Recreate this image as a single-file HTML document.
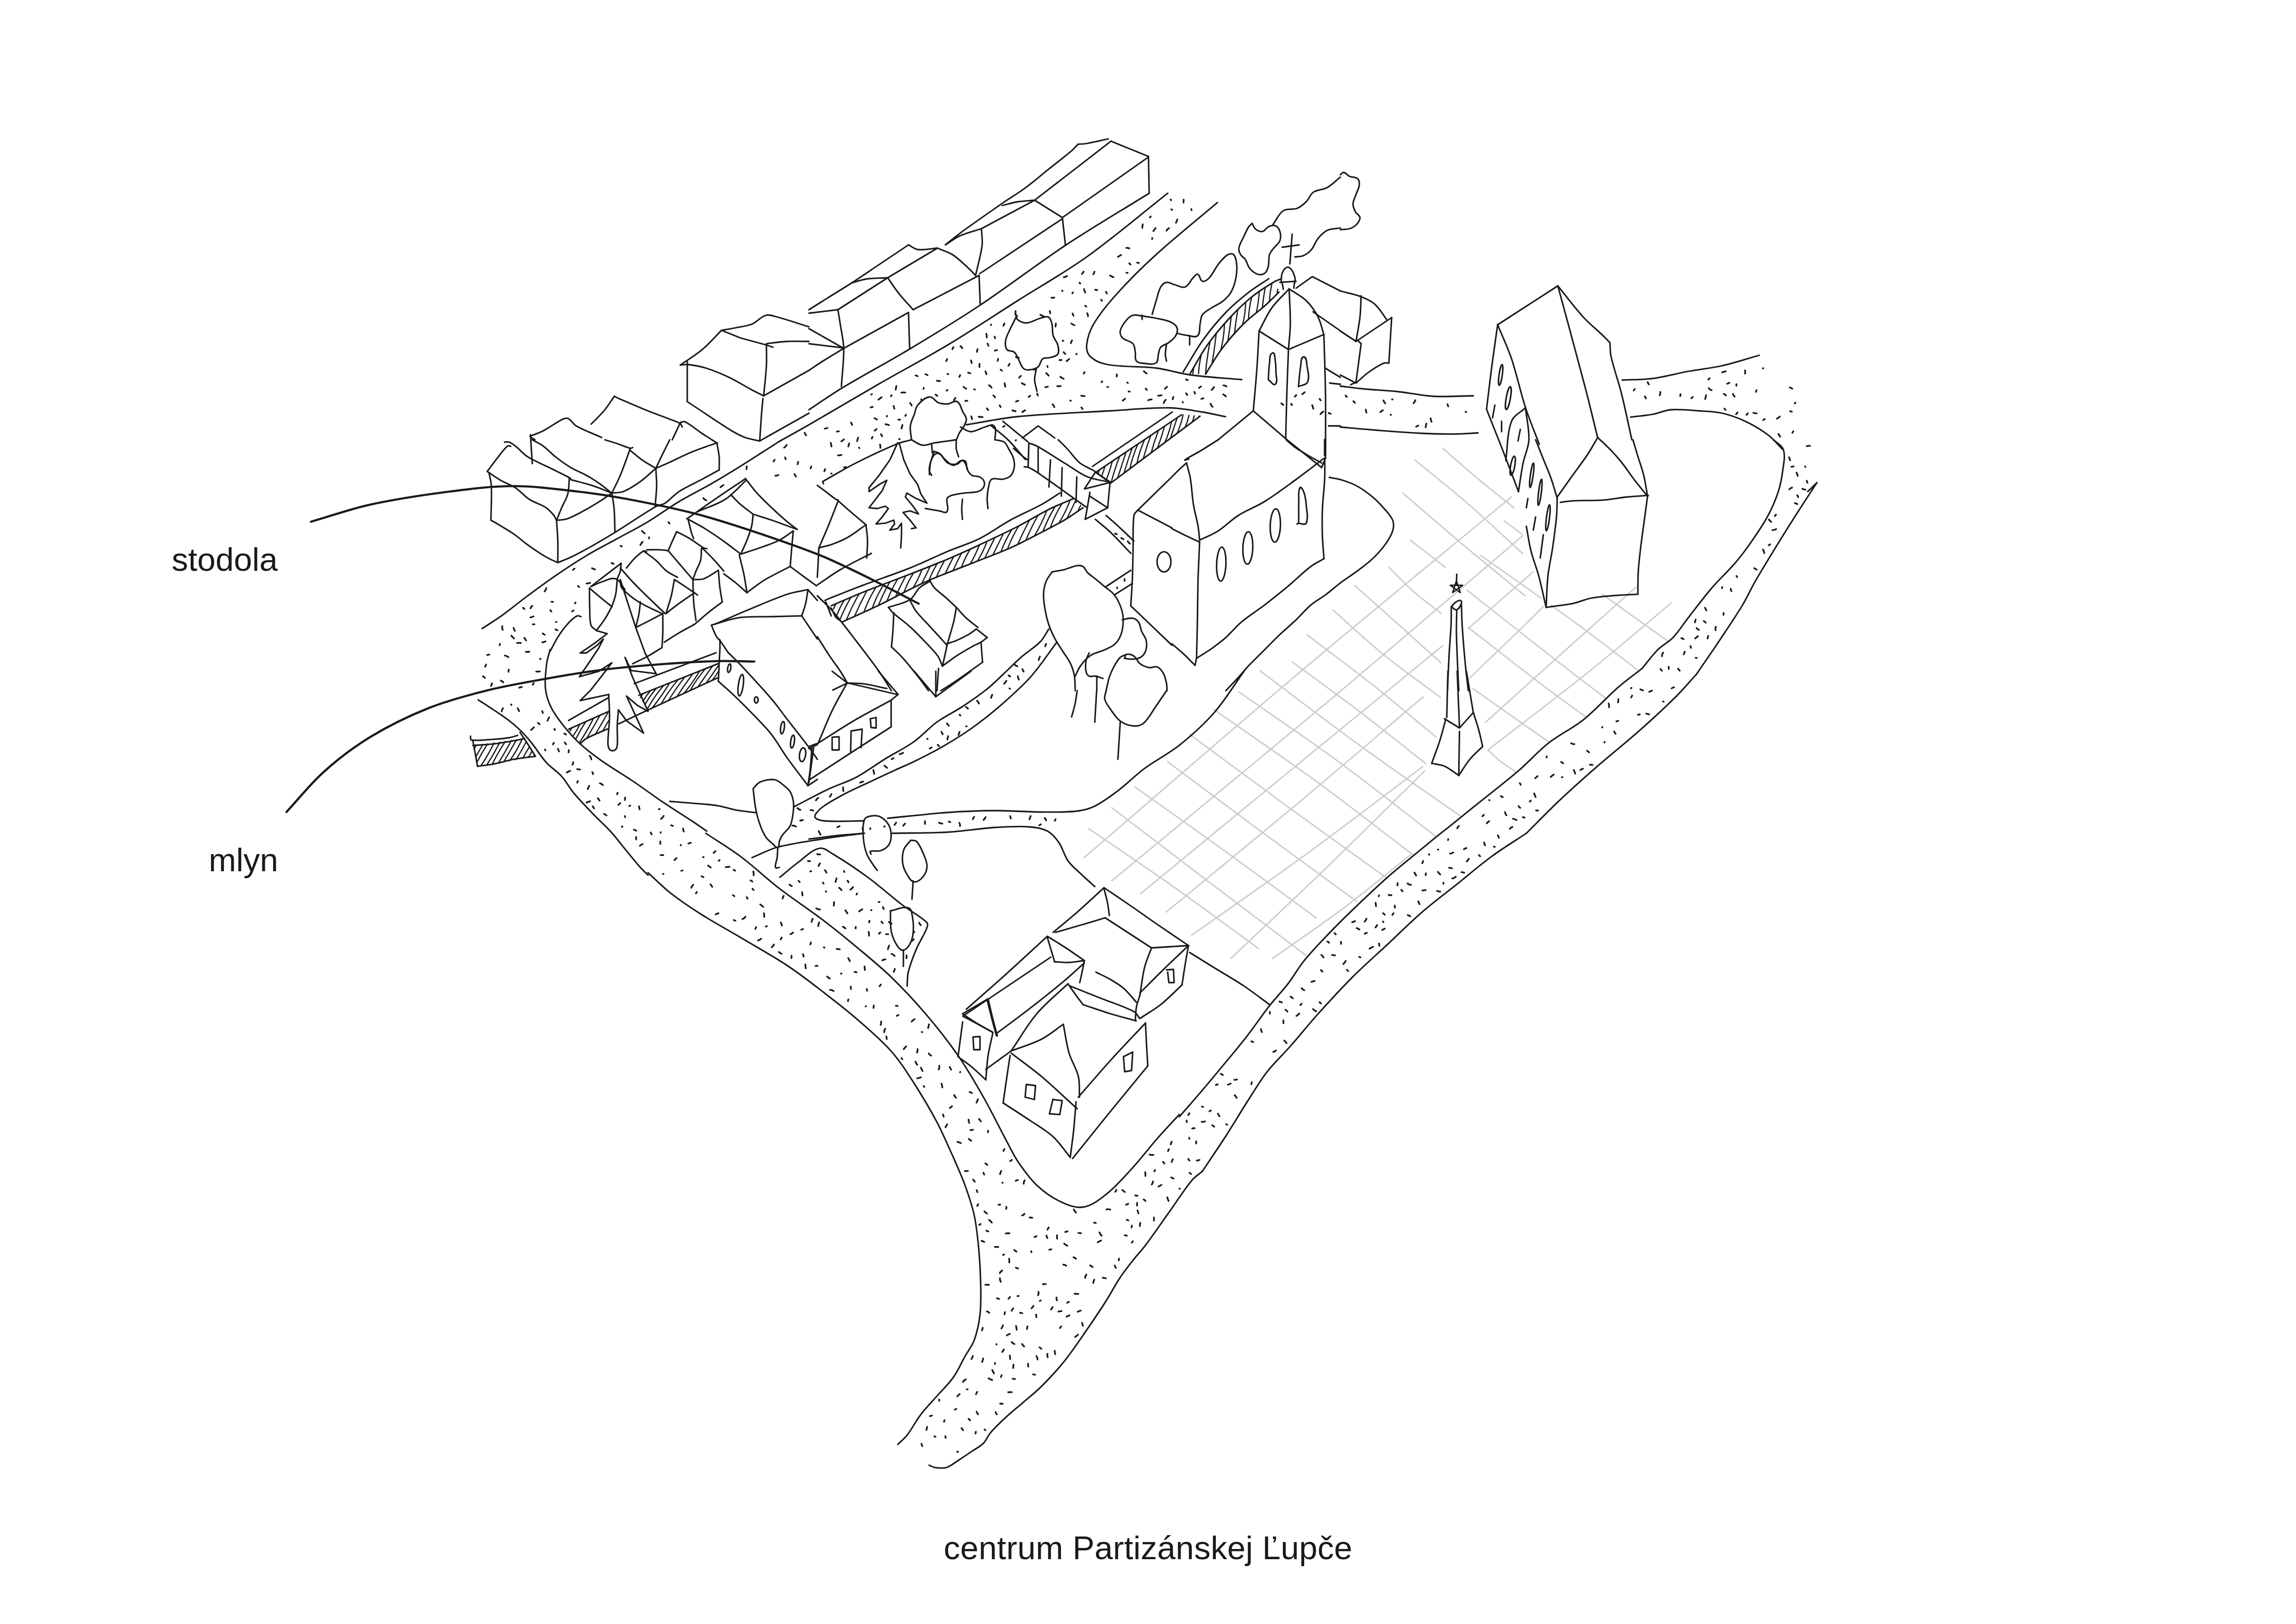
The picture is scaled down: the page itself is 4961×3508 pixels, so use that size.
<!DOCTYPE html>
<html><head><meta charset="utf-8"><title>centrum Partizánskej Ľupče</title>
<style>
html,body{margin:0;padding:0;background:#fff}
body{width:4961px;height:3508px;position:relative;overflow:hidden;font-family:"Liberation Sans",sans-serif;color:#1a1a1a}
.t{position:absolute;white-space:nowrap;line-height:1}
</style></head><body>
<svg width="4961" height="3508" viewBox="0 0 4961 3508" style="position:absolute;left:0;top:0">
<defs><clipPath id="pz"><path d="M3077.0 940.0 L3030.0 1063.0 L3047.0 1163.0 L3000.0 1223.0 L2927.0 1263.0 L2880.0 1317.0 L2823.0 1370.0 L2790.0 1430.0 L2720.0 1447.0 L2673.0 1493.0 L2620.0 1530.0 L2567.0 1587.0 L2520.0 1643.0 L2450.0 1700.0 L2400.0 1740.0 L2350.0 1790.0 L2335.0 1853.0 L2403.0 1912.0 L2467.0 1935.0 L2520.0 1975.0 L2577.0 2025.0 L2660.0 2085.0 L2743.0 2165.0 L2783.0 2125.0 L2818.0 2075.0 L2868.0 2020.0 L2923.0 1965.0 L2998.0 1895.0 L3058.0 1845.0 L3113.0 1800.0 L3191.0 1737.0 L3281.0 1665.0 L3346.0 1605.0 L3421.0 1555.0 L3496.0 1485.0 L3541.0 1450.0 L3582.0 1404.0 L3615.0 1377.0 L3650.0 1330.0 L3560.0 1262.0 L3336.0 1310.0 L3283.0 1130.0 L3243.0 990.0 L3208.0 930.0Z"/></clipPath></defs>
<g clip-path="url(#pz)" fill="none" stroke="#cdcdcd" stroke-width="3.1" stroke-linecap="round">
<path d="M2352.5 1790.0 C2414.2 1832.3 2476.6 1873.7 2537.7 1916.9 C2598.9 1960.1 2658.8 2004.9 2719.3 2049.0"/>
<path d="M2402.5 1745.0 C2472.3 1798.3 2542.0 1851.7 2611.9 1904.9 C2681.8 1958.0 2751.9 2010.9 2822.0 2063.9"/>
<path d="M2452.5 1700.0 C2518.0 1746.7 2583.7 1792.9 2648.9 1840.0 C2714.0 1887.1 2778.6 1935.0 2843.4 1982.5"/>
<path d="M2522.5 1645.0 C2590.4 1695.7 2658.0 1746.7 2726.2 1797.0 C2794.3 1847.4 2863.0 1897.0 2931.3 1947.0"/>
<path d="M2570.0 1586.0 C2641.4 1638.6 2712.4 1691.6 2784.1 1743.8 C2855.8 1796.1 2928.0 1847.5 3000.0 1899.3"/>
<path d="M2622.5 1532.5 C2696.3 1584.2 2771.0 1634.4 2843.8 1687.5 C2916.5 1740.6 2987.2 1796.5 3058.9 1851.0"/>
<path d="M2677.5 1495.0 C2749.9 1545.7 2823.5 1594.9 2894.8 1647.2 C2966.1 1699.5 3035.0 1755.0 3105.1 1808.9"/>
<path d="M2722.5 1449.0 C2795.3 1503.4 2867.3 1558.9 2940.9 1612.2 C3014.4 1665.5 3089.6 1716.6 3164.0 1768.8"/>
<path d="M2792.5 1430.0 C2841.1 1465.8 2890.2 1500.8 2938.2 1537.4 C2986.2 1574.0 3033.0 1612.1 3080.5 1649.4"/>
<path d="M2822.5 1370.0 C2869.9 1406.1 2917.9 1441.4 2964.6 1478.3 C3011.3 1515.3 3056.6 1553.9 3102.7 1591.7"/>
<path d="M2880.0 1317.5 C2917.4 1350.5 2953.6 1385.0 2992.3 1416.4 C3031.0 1447.9 3072.2 1476.2 3112.1 1506.1"/>
<path d="M2927.5 1265.0 C2958.6 1292.7 2989.7 1320.3 3020.7 1348.1 C3051.7 1375.9 3082.6 1403.9 3113.5 1431.7"/>
<path d="M3001.0 1225.5 C3018.9 1243.1 3036.0 1261.7 3054.8 1278.3 C3073.7 1294.9 3094.3 1309.4 3114.0 1325.0"/>
<path d="M3047.5 1167.0 C3060.1 1176.7 3072.7 1186.3 3085.2 1196.0 C3097.7 1205.8 3110.1 1215.7 3122.5 1225.5"/>
<path d="M3031.0 1065.0 C3074.7 1102.4 3118.0 1140.3 3162.0 1177.3 C3206.0 1214.3 3250.8 1250.4 3295.1 1287.0"/>
<path d="M3044.0 983.0 C3085.9 1017.4 3128.8 1050.8 3169.8 1086.3 C3210.8 1121.8 3250.0 1159.4 3290.1 1195.9"/>
<path d="M3117.5 968.5 C3142.7 990.3 3167.6 1012.6 3193.2 1034.0 C3218.8 1055.4 3245.1 1076.0 3271.0 1097.0"/>
<path d="M3175.0 1357.5 C3236.2 1404.7 3296.5 1453.1 3358.5 1499.1 C3420.6 1545.2 3484.4 1588.8 3547.3 1633.7"/>
<path d="M3182.5 1487.5 C3221.7 1515.1 3260.8 1542.8 3300.1 1570.4 C3339.4 1598.0 3378.7 1625.4 3418.0 1652.9"/>
<path d="M3215.0 1620.0 C3225.2 1629.1 3234.9 1638.9 3245.7 1647.3 C3256.6 1655.6 3268.6 1662.4 3280.0 1670.0"/>
<path d="M3170.0 1275.0 C3237.0 1327.6 3303.5 1380.8 3370.9 1432.9 C3438.2 1485.0 3506.4 1536.1 3574.2 1587.6"/>
<path d="M3200.0 1200.0 C3275.7 1254.1 3352.4 1306.7 3427.1 1362.2 C3501.8 1417.7 3574.3 1475.9 3648.0 1532.8"/>
<path d="M3250.0 1125.0 C3324.2 1180.3 3397.7 1236.5 3472.5 1290.9 C3547.3 1345.4 3623.3 1398.2 3698.6 1451.9"/>
<path d="M3425.0 1160.0 C3478.4 1197.0 3531.5 1234.4 3585.1 1271.1 C3638.6 1307.8 3692.6 1343.9 3746.4 1380.4"/>
<path d="M3550.0 1185.0 C3587.6 1208.1 3625.7 1230.6 3662.9 1254.4 C3700.1 1278.2 3736.4 1303.4 3773.2 1327.8"/>
<path d="M2342.5 1852.5 C2499.3 1717.8 2655.0 1581.6 2813.0 1448.3 C2971.1 1314.9 3131.5 1184.5 3290.8 1052.6"/>
<path d="M2402.5 1902.5 C2563.1 1769.4 2724.6 1637.4 2884.3 1503.2 C3043.9 1369.0 3201.7 1232.5 3360.4 1097.2"/>
<path d="M2465.0 1930.0 C2573.6 1840.7 2682.2 1751.3 2790.9 1662.1 C2899.7 1572.9 3008.5 1483.9 3117.3 1394.8"/>
<path d="M2520.0 1970.0 C2613.1 1893.2 2706.7 1817.1 2799.3 1739.6 C2891.8 1662.2 2983.2 1583.4 3075.2 1505.2"/>
<path d="M2575.0 2020.0 C2659.1 1960.6 2744.0 1902.4 2827.2 1841.7 C2910.3 1781.0 2991.7 1717.9 3074.0 1656.1"/>
<path d="M2660.0 2070.0 C2730.3 2003.2 2801.2 1937.0 2870.9 1869.6 C2940.6 1802.1 3009.2 1733.5 3078.3 1665.4"/>
<path d="M2750.0 2070.0 C2800.6 2034.1 2852.2 1999.7 2901.8 1962.4 C2951.5 1925.2 2999.0 1885.3 3047.6 1846.8"/>
<path d="M3172.5 1357.5 C3216.5 1319.1 3260.2 1280.5 3304.5 1242.4 C3348.8 1204.4 3393.6 1166.9 3438.2 1129.2"/>
<path d="M3175.0 1465.0 C3226.3 1415.4 3278.4 1366.7 3328.8 1316.3 C3379.2 1265.9 3427.9 1213.8 3477.5 1162.5"/>
<path d="M3210.0 1560.0 C3271.8 1504.3 3333.4 1448.5 3395.3 1393.0 C3457.2 1337.5 3519.4 1282.3 3581.4 1227.0"/>
<path d="M3215.0 1620.0 C3289.4 1562.3 3364.8 1506.0 3438.1 1446.9 C3511.4 1387.8 3582.5 1326.1 3654.6 1265.7"/>
<path d="M3280.0 1670.0 C3347.8 1619.2 3416.5 1569.6 3483.4 1517.5 C3550.3 1465.5 3615.3 1411.1 3681.3 1357.9"/>
</g>
<g fill="none" stroke="#1a1a1a" stroke-linecap="round" stroke-linejoin="round">
<g stroke-width="3.30">
<path d="M1470.0 788.5 C1485.8 777.3 1502.7 767.5 1517.5 755.0 C1532.5 742.4 1545.2 727.3 1559.0 713.5"/>
<path d="M1559.0 713.5 C1570.2 711.5 1581.4 709.8 1592.5 707.5 C1603.4 705.3 1614.8 704.3 1625.0 700.0 C1635.9 695.4 1643.6 684.1 1655.0 681.0 C1663.1 678.8 1671.9 682.8 1680.0 685.0 C1702.9 691.2 1725.3 699.0 1748.0 706.0"/>
<path d="M1559.0 713.5 L1600.0 730.0 L1655.0 745.0 L1670.0 750.0"/>
<path d="M1656.0 742.5 C1670.7 740.8 1685.3 738.3 1700.0 737.5 C1716.0 736.6 1732.0 737.5 1748.0 737.5"/>
<path d="M1470.0 788.5 C1475.8 788.2 1481.7 786.8 1487.5 787.5 C1500.2 789.0 1512.8 791.2 1525.0 795.0 C1542.1 800.4 1558.8 807.3 1575.0 815.0 C1592.2 823.2 1608.2 833.5 1625.0 842.5 C1633.2 846.9 1641.7 850.8 1650.0 855.0"/>
<path d="M1656.0 745.0 C1656.0 760.0 1656.8 775.0 1656.0 790.0 C1654.8 811.7 1652.0 833.3 1650.0 855.0"/>
<path d="M1485.0 781.0 L1485.0 867.5"/>
<path d="M1485.0 867.5 C1495.0 874.2 1505.0 880.9 1515.0 887.5 C1536.6 901.7 1557.9 916.6 1580.0 930.0 C1589.6 935.8 1599.5 941.2 1610.0 945.0 C1620.1 948.7 1631.0 950.0 1641.5 952.5"/>
<path d="M1648.5 861.0 C1647.3 874.0 1646.0 887.0 1645.0 900.0 C1643.7 917.5 1642.7 935.0 1641.5 952.5"/>
<path d="M1277.5 916.0 C1286.7 906.5 1296.5 897.6 1305.0 887.5 C1313.3 877.6 1320.0 866.5 1327.5 856.0"/>
<path d="M1327.5 856.0 C1330.8 857.7 1334.1 859.5 1337.5 861.0 C1358.3 870.0 1379.0 879.0 1400.0 887.5 C1416.5 894.2 1433.4 900.0 1450.0 906.5 C1456.7 909.1 1464.0 911.0 1470.0 915.0 C1472.4 916.6 1472.7 920.0 1474.0 922.5"/>
<path d="M1470.0 912.5 C1473.3 912.0 1477.0 909.5 1480.0 911.0 C1492.7 917.3 1503.2 927.2 1515.0 935.0 C1526.6 942.7 1538.3 950.0 1550.0 957.5"/>
<path d="M1469.0 915.0 L1452.5 950.0"/>
<path d="M1145.0 942.5 C1155.0 938.3 1165.4 935.0 1175.0 930.0 C1188.8 922.8 1201.1 912.9 1215.0 906.0 C1218.8 904.1 1223.7 902.2 1227.5 904.0 C1234.7 907.3 1238.1 916.1 1245.0 920.0 C1262.5 929.9 1281.7 936.7 1300.0 945.0"/>
<path d="M1146.5 939.0 L1147.0 950.0"/>
<path d="M1147.5 945.0 L1156.0 950.0"/>
<path d="M1650.0 855.0 L1748.0 800.0"/>
<path d="M1641.5 952.5 L1748.0 892.5"/>
<path d="M1748.0 669.0 C1764.7 658.5 1781.3 648.0 1798.0 637.5 C1812.1 628.6 1826.5 620.1 1840.5 611.0 C1859.8 598.4 1878.8 585.3 1898.0 572.5 C1919.7 558.0 1941.3 543.5 1963.0 529.0"/>
<path d="M1963.0 529.0 C1969.7 532.3 1975.6 538.2 1983.0 539.0 C1997.1 540.6 2011.3 537.0 2025.5 536.0"/>
<path d="M1840.5 611.0 C1851.3 608.2 1861.9 604.1 1873.0 602.5 C1887.9 600.4 1903.0 600.8 1918.0 600.0"/>
<path d="M1918.0 600.0 L2025.5 536.0"/>
<path d="M1918.0 600.0 C1926.3 611.7 1934.1 623.8 1943.0 635.0 C1952.4 646.8 1963.0 657.7 1973.0 669.0"/>
<path d="M1748.0 676.5 L1810.5 669.0"/>
<path d="M1810.5 669.0 L1918.0 600.0"/>
<path d="M1810.5 669.0 C1812.2 679.3 1814.0 689.6 1815.5 700.0 C1818.1 717.5 1822.7 734.8 1823.0 752.5 C1823.5 780.0 1819.7 807.5 1818.0 835.0"/>
<path d="M1748.0 710.0 L1823.0 752.5"/>
<path d="M1748.0 742.5 L1823.0 751.5"/>
<path d="M1748.0 800.0 C1758.0 793.3 1767.8 786.4 1778.0 780.0 C1792.9 770.6 1808.0 761.7 1823.0 752.5"/>
<path d="M1823.0 752.5 L1963.0 675.0"/>
<path d="M1963.0 675.0 L1965.5 752.5"/>
<path d="M1973.0 669.0 L2115.5 595.0"/>
<path d="M2115.5 595.0 L2118.0 657.5"/>
<path d="M2025.5 536.0 C2036.3 540.7 2048.0 543.8 2058.0 550.0 C2069.0 556.9 2078.3 566.3 2088.0 575.0 C2095.0 581.3 2101.3 588.3 2108.0 595.0"/>
<path d="M2043.0 529.0 C2053.0 522.7 2062.2 514.9 2073.0 510.0 C2088.2 503.1 2104.7 499.3 2120.5 494.0"/>
<path d="M2043.0 528.5 C2055.8 518.5 2068.3 508.1 2081.5 498.5 C2108.9 478.6 2136.7 459.3 2164.5 440.0 C2181.0 428.6 2198.3 418.4 2214.5 406.5 C2231.7 393.9 2247.8 379.8 2264.5 366.5 C2281.2 353.2 2298.2 340.3 2314.5 326.5 C2319.9 321.9 2324.5 316.5 2329.5 311.5"/>
<path d="M2329.5 311.5 C2335.7 311.0 2341.9 311.1 2348.0 310.0 C2363.6 307.2 2379.0 303.3 2394.5 300.0"/>
<path d="M2120.5 494.0 L2235.5 432.5"/>
<path d="M2165.5 444.0 C2176.3 441.3 2187.0 437.8 2198.0 436.0 C2210.4 434.0 2223.0 433.7 2235.5 432.5"/>
<path d="M2235.5 432.5 L2400.5 305.0"/>
<path d="M2400.5 305.0 L2480.5 337.5"/>
<path d="M2235.5 432.5 L2295.5 470.0"/>
<path d="M2295.5 470.0 L2480.5 340.0"/>
<path d="M2295.5 470.0 L2302.0 529.0"/>
<path d="M2481.5 337.5 L2483.0 417.5"/>
<path d="M2120.5 494.0 C2121.0 506.0 2123.5 518.1 2122.0 530.0 C2119.3 552.0 2112.7 573.3 2108.0 595.0"/>
<path d="M2117.0 591.0 L2295.5 472.5"/>
<path d="M1748.0 885.0 C1771.3 869.7 1794.1 853.4 1818.0 839.0 C1866.6 809.7 1916.8 783.2 1965.5 754.0 C2016.9 723.2 2068.1 692.2 2118.0 659.0 C2180.4 617.5 2239.5 571.3 2302.0 530.0 C2361.2 490.8 2422.7 455.0 2483.0 417.5"/>
<path d="M1684.0 953.5 C1705.3 941.5 1726.8 929.7 1748.0 917.5 C1798.1 888.6 1847.8 858.9 1898.0 830.0 C1947.8 801.4 1998.7 774.6 2048.0 745.0 C2098.8 714.5 2148.0 681.7 2198.0 650.0 C2248.0 618.3 2299.9 589.4 2348.0 555.0 C2408.3 511.8 2464.7 463.3 2523.0 417.5"/>
<path d="M2630.5 437.5 C2586.3 475.0 2540.9 511.1 2498.0 550.0 C2468.3 576.9 2439.8 605.2 2413.0 635.0 C2394.7 655.3 2376.9 676.5 2363.0 700.0 C2355.0 713.6 2349.7 729.3 2348.0 745.0 C2347.1 753.7 2349.2 764.0 2355.5 770.0 C2365.5 779.5 2379.4 785.1 2393.0 787.5 C2427.6 793.6 2463.2 790.6 2498.0 795.0 C2523.3 798.2 2547.7 806.6 2573.0 810.0 C2609.5 814.9 2646.3 816.7 2683.0 820.0"/>
<path d="M2088.0 917.5 C2124.7 911.7 2161.0 903.6 2198.0 900.0 C2264.5 893.6 2331.3 891.3 2398.0 887.5 C2441.3 885.0 2484.6 880.5 2528.0 881.0 C2551.5 881.3 2574.8 886.3 2598.0 890.0 C2614.8 892.7 2631.3 896.7 2648.0 900.0"/>
<path d="M2197.0 681.0 C2197.3 684.0 2195.6 688.1 2198.0 690.0 C2203.6 694.4 2210.9 697.9 2218.0 697.5 C2228.5 697.0 2237.8 690.2 2248.0 687.5 C2253.7 686.0 2260.2 682.4 2265.5 685.0 C2270.5 687.5 2271.6 694.6 2273.0 700.0 C2275.0 708.1 2273.3 716.9 2275.5 725.0 C2277.5 732.2 2283.7 737.8 2285.5 745.0 C2287.1 751.5 2289.1 759.4 2285.5 765.0 C2282.1 770.4 2274.1 770.6 2268.0 772.5 C2263.2 774.0 2257.0 771.8 2253.0 775.0 C2247.8 779.2 2248.2 788.3 2243.0 792.5 C2237.5 796.9 2230.0 798.5 2223.0 799.0 C2218.6 799.3 2213.4 798.3 2210.5 795.0 C2204.4 787.9 2202.6 778.1 2198.0 770.0 C2195.9 766.4 2194.0 762.3 2190.5 760.0 C2186.1 757.1 2178.5 759.3 2175.5 755.0 C2171.6 749.5 2171.9 741.6 2173.0 735.0 C2174.5 726.1 2179.4 718.2 2183.0 710.0 C2186.0 703.2 2189.8 696.7 2193.0 690.0 C2194.4 687.0 2195.7 684.0 2197.0 681.0"/>
<path d="M2239.5 795.0 C2238.2 803.3 2235.3 811.6 2235.5 820.0 C2235.7 828.5 2238.8 836.7 2240.5 845.0"/>
<path d="M2468.0 682.5 C2461.3 682.0 2454.4 679.2 2448.0 681.0 C2441.9 682.7 2437.0 687.6 2433.0 692.5 C2427.6 699.2 2422.2 706.6 2420.5 715.0 C2419.5 720.2 2421.8 726.3 2425.5 730.0 C2431.6 736.1 2442.2 736.2 2448.0 742.5 C2452.1 747.0 2451.8 754.1 2453.0 760.0 C2454.3 766.6 2451.3 774.8 2455.5 780.0 C2459.3 784.7 2467.0 784.4 2473.0 785.0 C2481.3 785.8 2491.1 788.6 2498.0 784.0 C2503.4 780.4 2501.2 771.3 2503.0 765.0 C2504.5 759.9 2504.5 753.9 2508.0 750.0 C2512.5 745.0 2520.2 744.1 2525.5 740.0 C2531.1 735.7 2537.1 731.2 2540.5 725.0 C2543.3 719.8 2545.3 712.9 2543.0 707.5 C2540.5 701.5 2533.9 697.6 2528.0 695.0 C2518.6 690.8 2508.1 689.6 2498.0 687.5 C2488.1 685.4 2478.0 684.2 2468.0 682.5"/>
<path d="M2467.0 681.0 L2468.0 690.0"/>
<path d="M2520.5 742.5 C2519.7 750.0 2518.0 757.5 2518.0 765.0 C2518.0 770.1 2519.7 775.0 2520.5 780.0"/>
<path d="M2489.5 679.0 C2492.3 669.3 2495.0 659.6 2498.0 650.0 C2501.2 639.9 2502.8 629.2 2508.0 620.0 C2510.6 615.3 2515.2 610.9 2520.5 610.0 C2526.5 609.0 2532.1 613.5 2538.0 615.0 C2545.5 616.9 2553.3 622.7 2560.5 620.0 C2568.8 616.9 2571.7 606.3 2578.0 600.0 C2580.9 597.1 2584.1 591.0 2588.0 592.5 C2593.6 594.6 2592.2 605.8 2598.0 607.5 C2603.4 609.1 2609.2 604.1 2613.0 600.0 C2621.2 591.2 2625.5 579.4 2633.0 570.0 C2638.9 562.6 2645.0 554.9 2653.0 550.0 C2656.5 547.8 2662.6 547.0 2665.5 550.0 C2670.3 555.1 2671.3 563.0 2672.0 570.0 C2673.0 580.0 2672.4 590.2 2670.5 600.0 C2668.5 610.4 2665.6 620.8 2660.5 630.0 C2656.2 637.8 2649.8 644.4 2643.0 650.0 C2635.5 656.2 2626.1 659.6 2618.0 665.0 C2611.1 669.6 2602.8 673.2 2598.0 680.0 C2594.0 685.6 2594.5 693.3 2593.0 700.0 C2591.2 708.3 2594.0 719.0 2588.0 725.0 C2583.3 729.7 2574.6 725.7 2568.0 725.0 C2559.6 724.1 2551.3 721.7 2543.0 720.0"/>
<path d="M2570.5 727.5 L2570.5 745.0"/>
<path d="M2705.5 482.5 C2708.0 486.7 2709.2 492.0 2713.0 495.0 C2717.2 498.2 2722.8 500.9 2728.0 500.0 C2733.2 499.0 2735.6 492.2 2740.5 490.0 C2745.1 487.9 2750.8 485.6 2755.5 487.5 C2760.5 489.5 2763.9 494.9 2765.5 500.0 C2767.5 506.4 2767.7 513.7 2765.5 520.0 C2763.3 526.1 2756.9 529.8 2753.0 535.0 C2749.4 539.8 2744.8 544.3 2743.0 550.0 C2740.5 558.0 2742.5 566.9 2740.5 575.0 C2739.1 580.4 2737.4 586.6 2733.0 590.0 C2729.0 593.1 2722.8 594.0 2718.0 592.5 C2711.1 590.4 2705.1 585.5 2700.5 580.0 C2695.7 574.3 2694.6 566.2 2690.5 560.0 C2687.9 556.1 2682.7 554.1 2680.5 550.0 C2678.1 545.5 2676.1 540.0 2677.0 535.0 C2678.7 526.1 2684.1 518.3 2688.0 510.0 C2691.2 503.2 2694.0 496.3 2698.0 490.0 C2699.9 487.0 2703.0 485.0 2705.5 482.5"/>
<path d="M2750.5 485.0 C2758.0 475.0 2762.6 461.9 2773.0 455.0 C2781.4 449.4 2793.6 453.8 2803.0 450.0 C2810.7 446.9 2817.1 440.9 2823.0 435.0 C2828.9 429.1 2831.1 419.6 2838.0 415.0 C2846.8 409.2 2858.8 410.2 2868.0 405.0 C2878.4 399.1 2886.7 390.0 2896.0 382.5"/>
<path d="M2798.0 555.0 C2803.8 554.2 2810.1 554.8 2815.5 552.5 C2822.1 549.7 2828.3 545.4 2833.0 540.0 C2839.4 532.7 2841.8 522.5 2848.0 515.0 C2853.6 508.2 2860.0 501.3 2868.0 497.5 C2876.6 493.5 2886.7 494.2 2896.0 492.5"/>
<path d="M2792.0 506.0 L2787.0 570.0"/>
<path d="M2770.5 534.0 L2807.0 529.0"/>
<path d="M2768.0 610.0 C2768.8 603.3 2768.1 596.3 2770.5 590.0 C2772.4 585.0 2775.5 579.4 2780.5 577.5 C2784.0 576.2 2788.2 579.6 2790.5 582.5 C2794.4 587.5 2796.3 593.9 2798.0 600.0 C2798.9 603.2 2798.0 606.7 2798.0 610.0"/>
<path d="M2765.5 610.0 L2800.5 607.5"/>
<path d="M2770.5 612.5 L2773.0 625.0"/>
<path d="M2797.0 610.0 L2795.5 622.5"/>
<path d="M2785.5 624.0 C2773.0 637.7 2758.8 649.9 2748.0 665.0 C2736.9 680.5 2729.7 698.3 2720.5 715.0"/>
<path d="M2785.5 624.0 C2798.0 632.7 2812.1 639.4 2823.0 650.0 C2833.3 660.0 2841.4 672.3 2848.0 685.0 C2854.1 696.7 2856.3 710.0 2860.5 722.5"/>
<path d="M2785.5 624.0 C2786.3 649.3 2788.3 674.7 2788.0 700.0 C2787.8 718.4 2785.3 736.7 2784.0 755.0"/>
<path d="M2720.5 715.0 L2784.0 755.0 L2860.5 722.5"/>
<path d="M2720.5 715.0 C2718.8 743.3 2717.6 771.7 2715.5 800.0 C2713.4 829.2 2710.5 858.3 2708.0 887.5"/>
<path d="M2784.0 755.0 C2782.8 786.7 2781.5 818.3 2780.5 850.0 C2779.5 882.5 2778.8 915.0 2778.0 947.5"/>
<path d="M2860.5 722.5 C2861.7 765.0 2863.4 807.5 2864.0 850.0 C2864.6 896.7 2864.0 943.3 2864.0 990.0"/>
<path d="M2740.5 820.0 C2741.3 808.3 2741.2 796.6 2743.0 785.0 C2744.2 777.3 2742.3 765.4 2749.5 762.5 C2755.2 760.2 2754.4 773.9 2755.5 780.0 C2757.0 788.2 2757.0 796.7 2757.0 805.0 C2757.0 813.3 2761.7 824.4 2755.5 830.0 C2751.1 834.0 2745.5 823.3 2740.5 820.0"/>
<path d="M2805.5 835.0 C2807.2 820.0 2807.8 804.9 2810.5 790.0 C2811.7 783.4 2810.3 771.0 2817.0 771.0 C2823.7 771.0 2823.0 783.3 2824.0 790.0 C2825.8 801.5 2829.9 814.2 2825.5 825.0 C2822.7 831.9 2812.2 831.7 2805.5 835.0"/>
<path d="M2800.5 622.5 L2835.5 597.5 L2896.0 628.5"/>
<path d="M2837.0 673.5 L2896.0 714.5"/>
<path d="M2863.0 795.0 L2896.0 815.0"/>
<path d="M2873.0 827.5 L2896.0 830.0"/>
<path d="M2870.5 920.0 L2896.0 920.0"/>
<path d="M2708.0 887.5 L2778.0 947.5"/>
<path d="M2778.0 947.5 L2855.5 1010.0"/>
<path d="M2855.5 1010.0 L2864.0 990.0"/>
<path d="M2556.5 803.5 C2571.0 780.2 2584.0 755.8 2600.0 733.5 C2615.2 712.4 2631.9 692.2 2650.0 673.5 C2665.4 657.6 2682.6 643.6 2700.0 630.0 C2713.1 619.7 2727.7 611.3 2741.5 602.0"/>
<path d="M2571.5 807.0 C2584.3 785.8 2595.6 763.6 2610.0 743.5 C2625.2 722.3 2642.2 702.5 2660.0 683.5 C2674.5 668.0 2689.9 653.3 2706.5 640.0 C2721.2 628.2 2737.4 618.3 2753.5 608.5 C2758.0 605.8 2763.2 604.5 2768.0 602.5"/>
<path d="M2605.0 808.0 C2616.7 789.8 2627.0 770.7 2640.0 753.5 C2654.2 734.6 2669.8 716.7 2686.5 700.0 C2701.0 685.5 2718.2 673.7 2733.5 660.0 C2743.9 650.7 2753.5 640.7 2763.5 631.0"/>
<path d="M2708.0 887.5 L2632.0 950.0"/>
<path d="M1969.5 950.0 C1968.7 940.0 1965.9 930.0 1967.0 920.0 C1968.0 911.3 1972.6 903.3 1975.5 895.0 C1977.9 888.3 1978.3 880.4 1983.0 875.0 C1989.7 867.3 1997.9 858.6 2008.0 857.5 C2015.8 856.6 2020.6 867.2 2028.0 870.0 C2034.3 872.4 2041.3 872.9 2048.0 872.5 C2054.9 872.1 2061.9 864.2 2068.0 867.5 C2075.6 871.6 2076.5 882.4 2080.5 890.0 C2083.1 894.9 2087.5 899.4 2088.0 905.0 C2088.4 910.3 2085.4 915.3 2083.0 920.0 C2080.3 925.4 2075.9 929.7 2073.0 935.0 C2070.4 939.8 2068.7 945.0 2066.5 950.0"/>
<path d="M2075.5 922.5 C2083.0 925.8 2089.8 932.5 2098.0 932.5 C2108.5 932.5 2117.8 925.1 2128.0 922.5 C2134.5 920.9 2143.8 914.8 2148.0 920.0 C2154.3 927.8 2149.3 940.0 2150.0 950.0"/>
<path d="M2018.0 975.0 C2022.2 976.7 2027.1 977.1 2030.5 980.0 C2037.3 985.7 2040.4 995.4 2048.0 1000.0 C2053.8 1003.5 2061.4 1003.5 2068.0 1002.5 C2072.8 1001.8 2076.1 993.0 2080.5 995.0 C2086.6 997.7 2087.2 1006.7 2090.5 1012.5"/>
<path d="M2008.0 1025.0 C2008.8 1016.7 2008.8 1008.2 2010.5 1000.0 C2012.2 991.8 2015.5 984.0 2018.0 976.0"/>
<path d="M2896.0 377.5 C2898.5 375.8 2900.5 372.0 2903.5 372.5 C2908.5 373.4 2911.4 378.9 2916.0 381.0 C2921.5 383.5 2929.0 381.9 2933.5 386.0 C2937.1 389.2 2937.5 395.2 2937.0 400.0 C2936.3 407.0 2932.3 413.3 2930.0 420.0 C2927.8 426.6 2923.8 433.0 2923.5 440.0 C2923.3 446.1 2925.8 452.1 2928.5 457.5 C2930.9 462.3 2938.0 464.7 2938.5 470.0 C2939.0 475.6 2934.8 480.9 2931.0 485.0 C2927.0 489.3 2921.6 492.3 2916.0 494.0 C2909.6 496.0 2902.7 495.3 2896.0 496.0"/>
<path d="M2896.0 628.5 C2911.0 632.7 2926.5 635.4 2941.0 641.0 C2951.6 645.1 2962.5 649.9 2971.0 657.5 C2981.2 666.6 2987.7 679.2 2996.0 690.0"/>
<path d="M2941.0 639.0 C2940.2 654.3 2940.2 669.7 2938.5 685.0 C2936.5 702.6 2932.8 720.0 2930.0 737.5"/>
<path d="M2896.0 715.0 L2930.0 737.5"/>
<path d="M2930.0 737.5 L3007.0 686.0"/>
<path d="M3007.0 686.0 L3001.0 784.0"/>
<path d="M2933.5 735.0 L2941.0 742.5 L2930.0 825.0"/>
<path d="M2896.0 810.0 L2930.0 827.5"/>
<path d="M2930.0 827.5 C2938.7 820.0 2946.7 811.7 2956.0 805.0 C2966.3 797.5 2977.0 790.4 2988.5 785.0 C2992.3 783.2 2996.8 784.3 3001.0 784.0"/>
<path d="M2918.5 831.0 L2931.0 825.0"/>
<path d="M2896.0 834.0 C2912.7 836.0 2929.3 838.4 2946.0 840.0 C2971.0 842.4 2996.1 843.3 3021.0 846.0 C3046.1 848.7 3070.8 854.6 3096.0 856.0 C3125.1 857.6 3154.3 855.3 3183.5 855.0"/>
<path d="M2896.0 922.5 C2921.0 924.7 2946.0 927.1 2971.0 929.0 C3004.3 931.6 3037.6 934.4 3071.0 936.0 C3096.0 937.2 3121.0 937.7 3146.0 937.5 C3161.9 937.4 3177.7 935.8 3193.5 935.0"/>
<path d="M3236.0 701.5 L3366.0 617.5"/>
<path d="M3366.0 617.5 C3384.3 640.0 3401.5 663.5 3421.0 685.0 C3433.3 698.6 3447.8 709.9 3461.0 722.5 C3467.0 728.2 3472.7 734.2 3478.5 740.0"/>
<path d="M3366.0 617.5 C3373.5 645.0 3381.1 672.5 3388.5 700.0 C3401.1 746.6 3413.9 793.2 3426.0 840.0 C3435.0 874.9 3443.3 910.0 3452.0 945.0"/>
<path d="M3236.0 701.5 C3246.0 726.0 3257.6 749.9 3266.0 775.0 C3277.6 809.5 3284.8 845.4 3296.0 880.0 C3304.8 907.1 3316.0 933.3 3326.0 960.0"/>
<path d="M3236.0 701.5 C3231.8 731.0 3227.4 760.5 3223.5 790.0 C3219.4 821.3 3215.8 852.7 3212.0 884.0"/>
<path d="M3212.0 884.0 C3223.3 912.7 3234.9 941.3 3246.0 970.0 C3257.9 1000.6 3269.3 1031.3 3281.0 1062.0"/>
<path d="M3478.5 740.0 C3479.3 750.0 3478.8 760.2 3481.0 770.0 C3487.1 797.0 3496.8 823.1 3503.5 850.0 C3511.8 883.1 3518.5 916.7 3526.0 950.0"/>
<path d="M3296.0 881.0 C3286.0 890.7 3270.9 897.0 3266.0 910.0 C3256.0 936.8 3257.7 966.7 3253.5 995.0"/>
<path d="M3296.0 881.0 C3298.5 904.0 3304.5 926.9 3303.5 950.0 C3302.8 967.2 3294.4 983.2 3291.0 1000.0 C3286.9 1020.5 3284.3 1041.3 3281.0 1062.0"/>
<path d="M3230.0 875.0 L3225.0 902.5"/>
<path d="M3244.5 910.0 L3244.5 932.5"/>
<path d="M3285.0 927.5 L3280.0 952.5"/>
<path d="M3505.0 821.0 C3527.0 819.8 3549.2 820.4 3571.0 817.5 C3596.3 814.2 3620.9 807.1 3646.0 802.5 C3670.9 797.9 3696.3 795.6 3721.0 790.0 C3748.0 783.9 3774.3 775.0 3801.0 767.5"/>
<path d="M3523.5 901.0 C3539.3 899.0 3555.3 897.9 3571.0 895.0 C3584.5 892.5 3597.3 886.0 3611.0 885.0 C3631.0 883.5 3651.0 886.1 3671.0 887.5 C3687.7 888.6 3704.7 888.8 3721.0 892.5 C3738.2 896.4 3755.0 902.4 3771.0 910.0 C3788.6 918.3 3805.5 928.3 3821.0 940.0 C3832.3 948.5 3841.0 960.0 3851.0 970.0"/>
<path d="M3906.0 1062.0 L3926.0 1042.5"/>
<path d="M1052.7 1018.4 C1060.7 1007.8 1068.5 997.1 1076.7 986.7 C1083.1 978.7 1089.0 970.0 1096.8 963.3 C1098.5 961.9 1101.2 963.8 1103.4 964.0"/>
<path d="M1090.1 955.0 C1093.4 955.0 1097.0 953.9 1100.1 955.0 C1105.0 956.8 1109.3 960.1 1113.4 963.3 C1122.7 970.7 1130.2 980.4 1140.1 986.7 C1154.8 996.0 1171.3 1002.3 1186.9 1010.1 C1201.3 1017.3 1216.0 1024.1 1230.2 1031.7 C1231.6 1032.5 1232.5 1034.0 1233.6 1035.1"/>
<path d="M1052.7 1018.4 C1063.0 1025.1 1072.8 1032.3 1083.4 1038.4 C1093.1 1044.0 1104.1 1047.2 1113.4 1053.4 C1124.3 1060.7 1132.6 1071.4 1143.5 1078.5 C1154.9 1085.9 1168.7 1089.3 1180.2 1096.8 C1186.8 1101.1 1191.9 1107.4 1196.9 1113.5 C1199.4 1116.6 1200.6 1120.6 1202.5 1124.2"/>
<path d="M1056.7 1021.7 C1058.4 1031.2 1061.4 1040.5 1061.7 1050.1 C1062.7 1074.6 1061.1 1099.0 1060.7 1123.5"/>
<path d="M1060.7 1123.5 C1068.3 1128.0 1075.9 1132.3 1083.4 1136.9 C1092.4 1142.3 1101.5 1147.5 1110.1 1153.5 C1120.5 1160.8 1129.9 1169.4 1140.1 1176.9 C1148.8 1183.3 1157.8 1189.4 1166.8 1195.2 C1173.3 1199.4 1180.0 1203.3 1186.9 1206.9 C1192.8 1210.0 1199.1 1212.5 1205.2 1215.3"/>
<path d="M1230.2 1031.7 C1229.1 1043.4 1229.8 1055.4 1226.9 1066.8 C1224.2 1077.4 1217.8 1086.7 1213.5 1096.8 C1209.7 1105.9 1206.2 1115.1 1202.5 1124.2"/>
<path d="M1202.5 1124.2 C1203.4 1138.4 1204.8 1152.6 1205.2 1166.9 C1205.7 1183.0 1205.2 1199.1 1205.2 1215.3"/>
<path d="M1202.5 1124.2 C1210.7 1122.8 1219.2 1123.0 1226.9 1120.2 C1240.9 1115.0 1253.8 1107.3 1266.9 1100.2 C1278.3 1093.9 1289.4 1087.1 1300.3 1080.1 C1307.7 1075.4 1314.8 1070.1 1322.0 1065.1"/>
<path d="M1233.6 1036.1 C1250.3 1040.8 1267.2 1044.7 1283.6 1050.1 C1296.7 1054.4 1309.2 1060.1 1322.0 1065.1"/>
<path d="M1205.2 1215.3 C1214.7 1211.4 1224.4 1208.1 1233.6 1203.6 C1250.6 1195.3 1267.1 1186.1 1283.6 1176.9 C1298.8 1168.3 1313.8 1159.4 1328.7 1150.2 C1357.8 1132.1 1385.8 1112.4 1415.4 1095.1 C1422.1 1091.2 1430.6 1091.0 1437.1 1086.8 C1448.1 1079.7 1456.2 1068.8 1467.1 1061.8 C1484.1 1050.9 1502.8 1043.0 1520.5 1033.4 C1531.7 1027.4 1542.8 1021.2 1553.9 1015.1"/>
<path d="M1146.8 950.0 C1147.4 958.9 1147.9 967.8 1148.5 976.7 C1149.0 985.0 1149.6 993.4 1150.2 1001.7"/>
<path d="M1150.2 950.0 C1157.9 954.4 1166.3 958.0 1173.5 963.3 C1183.0 970.3 1190.9 979.4 1200.2 986.7 C1210.9 995.0 1221.9 1003.1 1233.6 1010.1 C1244.2 1016.5 1256.1 1020.7 1266.9 1026.7 C1276.1 1031.8 1285.0 1037.4 1293.6 1043.4 C1303.4 1050.2 1312.5 1057.9 1322.0 1065.1"/>
<path d="M1362.0 968.4 C1354.8 987.8 1348.3 1007.6 1340.3 1026.7 C1334.9 1039.8 1328.1 1052.3 1322.0 1065.1"/>
<path d="M1307.0 950.0 C1315.9 952.8 1324.8 955.4 1333.7 958.3 C1343.2 961.5 1352.3 965.9 1362.0 968.4 C1363.7 968.8 1365.4 967.2 1367.0 966.7"/>
<path d="M1360.4 971.7 C1369.3 978.9 1377.7 986.8 1387.1 993.4 C1396.6 1000.1 1407.1 1005.6 1417.1 1011.7"/>
<path d="M1322.0 1065.1 C1330.3 1064.0 1339.2 1064.9 1347.0 1061.8 C1360.2 1056.4 1372.2 1048.3 1383.7 1040.1 C1395.6 1031.6 1406.0 1021.2 1417.1 1011.7"/>
<path d="M1322.0 1065.1 C1323.7 1076.8 1326.1 1088.4 1327.0 1100.2 C1328.3 1116.8 1328.1 1133.5 1328.7 1150.2"/>
<path d="M1417.1 1011.7 C1417.6 1024.5 1419.0 1037.3 1418.8 1050.1 C1418.5 1065.2 1416.5 1080.1 1415.4 1095.1"/>
<path d="M1447.1 950.0 C1441.6 961.1 1435.9 972.2 1430.4 983.4 C1425.9 992.8 1421.5 1002.3 1417.1 1011.7"/>
<path d="M1417.1 1011.7 C1426.0 1007.8 1434.9 1004.1 1443.8 1000.1 C1460.5 992.4 1476.8 983.7 1493.8 976.7 C1511.9 969.2 1530.5 963.3 1548.9 956.7"/>
<path d="M1548.9 956.7 C1550.6 966.7 1553.0 976.6 1553.9 986.7 C1554.7 996.1 1553.9 1005.6 1553.9 1015.1"/>
<path d="M1041.7 1357.7 C1055.6 1348.6 1069.9 1340.1 1083.4 1330.4 C1102.7 1316.5 1121.0 1301.2 1140.1 1287.0 C1160.0 1272.3 1179.8 1257.6 1200.2 1243.6 C1222.1 1228.6 1244.2 1213.9 1266.9 1200.3 C1288.7 1187.2 1311.4 1175.8 1333.7 1163.5 C1355.9 1151.3 1378.6 1139.9 1400.4 1126.8 C1423.2 1113.2 1444.4 1097.1 1467.1 1083.5 C1488.9 1070.4 1511.9 1059.4 1533.9 1046.8 C1556.4 1033.8 1578.6 1020.4 1600.6 1006.7 C1628.6 989.3 1656.2 971.1 1684.0 953.3"/>
<path d="M1483.8 1120.8 C1504.9 1106.2 1526.0 1091.3 1547.2 1076.8 C1568.2 1062.4 1589.5 1048.3 1610.6 1034.1"/>
<path d="M1507.2 1105.2 C1527.2 1096.3 1548.8 1090.3 1567.2 1078.5 C1584.3 1067.5 1597.3 1051.1 1612.3 1037.4"/>
<path d="M1610.6 1033.4 C1618.4 1043.4 1625.5 1054.0 1634.0 1063.4 C1644.5 1075.2 1655.9 1086.0 1667.3 1096.8 C1678.2 1107.1 1689.3 1117.2 1700.7 1126.8 C1707.7 1132.7 1715.2 1138.0 1722.4 1143.5"/>
<path d="M1578.9 1068.5 C1586.1 1075.7 1592.9 1083.4 1600.6 1090.1 C1609.1 1097.6 1618.4 1103.9 1627.3 1110.8"/>
<path d="M1627.3 1110.8 C1640.6 1115.1 1654.1 1119.0 1667.3 1123.5 C1685.8 1129.9 1704.0 1136.9 1722.4 1143.5"/>
<path d="M1627.3 1110.8 C1626.2 1119.5 1626.0 1128.3 1624.0 1136.9 C1621.5 1147.1 1617.8 1157.0 1613.9 1166.9 C1610.0 1177.1 1605.0 1186.9 1600.6 1196.9"/>
<path d="M1487.2 1121.8 C1498.3 1128.0 1509.7 1133.6 1520.5 1140.2 C1534.2 1148.6 1547.5 1157.6 1560.6 1166.9 C1574.2 1176.5 1587.3 1186.9 1600.6 1196.9"/>
<path d="M1487.2 1123.5 C1489.4 1132.4 1491.3 1141.4 1493.8 1150.2 C1495.2 1154.8 1497.2 1159.1 1498.8 1163.5"/>
<path d="M1600.6 1196.9 C1617.3 1191.4 1634.1 1186.2 1650.7 1180.2 C1661.9 1176.2 1673.4 1172.5 1684.0 1166.9 C1694.7 1161.3 1704.0 1153.5 1714.0 1146.9"/>
<path d="M1597.3 1198.6 C1600.6 1212.5 1604.4 1226.3 1607.3 1240.3 C1610.0 1253.5 1611.7 1267.0 1613.9 1280.3"/>
<path d="M1714.0 1146.9 C1712.9 1159.1 1711.8 1171.3 1710.7 1183.6 C1709.6 1196.9 1708.5 1210.3 1707.4 1223.6"/>
<path d="M1613.9 1280.3 C1626.2 1271.4 1637.7 1261.5 1650.7 1253.6 C1668.9 1242.5 1688.5 1233.6 1707.4 1223.6"/>
<path d="M1707.4 1223.6 C1716.3 1230.3 1725.1 1237.0 1734.1 1243.6 C1744.0 1250.9 1754.1 1258.1 1764.1 1265.3"/>
<path d="M1563.9 1239.6 C1571.7 1245.4 1579.7 1250.9 1587.3 1257.0 C1596.4 1264.4 1605.0 1272.5 1613.9 1280.3"/>
<path d="M1353.7 1226.9 C1359.2 1220.3 1364.2 1213.1 1370.4 1206.9 C1376.5 1200.8 1382.8 1194.5 1390.4 1190.2 C1392.4 1189.1 1394.8 1191.4 1397.1 1191.9"/>
<path d="M1397.1 1187.6 C1407.1 1187.6 1417.1 1187.1 1427.1 1187.6 C1432.7 1187.8 1438.2 1188.9 1443.8 1189.6"/>
<path d="M1443.8 1189.6 C1446.6 1183.1 1449.3 1176.6 1452.1 1170.2 C1455.4 1163.0 1458.8 1155.8 1462.1 1148.5"/>
<path d="M1462.1 1148.5 C1471.6 1153.5 1481.3 1158.0 1490.5 1163.5 C1500.8 1169.7 1510.2 1177.4 1520.5 1183.6 C1522.5 1184.7 1525.0 1184.7 1527.2 1185.2"/>
<path d="M1517.2 1183.6 C1525.0 1191.4 1533.0 1198.9 1540.5 1206.9 C1548.6 1215.6 1556.1 1224.7 1563.9 1233.6"/>
<path d="M1390.4 1190.2 C1399.3 1196.9 1408.7 1203.0 1417.1 1210.3 C1425.4 1217.5 1431.8 1226.8 1440.4 1233.6 C1447.5 1239.2 1456.0 1242.5 1463.8 1247.0"/>
<path d="M1443.8 1189.6 C1451.6 1198.7 1459.3 1207.8 1467.1 1216.9 C1477.1 1228.6 1487.2 1240.3 1497.2 1252.0"/>
<path d="M1515.5 1185.2 C1515.0 1193.6 1515.8 1202.1 1513.8 1210.3 C1511.9 1218.5 1507.0 1225.8 1503.8 1233.6 C1501.4 1239.7 1499.4 1245.9 1497.2 1252.0"/>
<path d="M1497.2 1252.0 C1504.9 1251.4 1513.2 1253.0 1520.5 1250.3 C1532.0 1246.1 1541.7 1238.1 1552.2 1231.9"/>
<path d="M1552.2 1231.9 C1553.3 1244.7 1554.0 1257.6 1555.6 1270.3 C1556.8 1280.4 1558.9 1290.3 1560.6 1300.4"/>
<path d="M1560.6 1300.4 C1551.7 1307.0 1542.5 1313.4 1533.9 1320.4 C1522.5 1329.5 1511.6 1339.3 1500.5 1348.7"/>
<path d="M1497.2 1252.0 C1497.7 1268.1 1497.6 1284.3 1498.8 1300.4 C1499.8 1313.8 1502.2 1327.0 1503.8 1340.4"/>
<path d="M1457.1 1252.0 C1454.9 1263.6 1453.3 1275.5 1450.5 1287.0 C1447.2 1300.0 1442.7 1312.6 1438.8 1325.4"/>
<path d="M1457.1 1252.0 C1464.9 1257.0 1472.8 1261.8 1480.5 1267.0 C1489.5 1273.0 1498.3 1279.2 1507.2 1285.3"/>
<path d="M1438.8 1325.4 C1448.2 1318.1 1457.5 1310.7 1467.1 1303.7 C1478.1 1295.7 1489.4 1288.1 1500.5 1280.3"/>
<path d="M1276.9 1267.0 C1287.0 1259.2 1296.9 1251.4 1307.0 1243.6 C1318.6 1234.7 1330.3 1225.8 1342.0 1216.9"/>
<path d="M1342.0 1216.9 C1341.5 1222.5 1341.7 1228.2 1340.3 1233.6 C1338.9 1239.4 1335.9 1244.7 1333.7 1250.3"/>
<path d="M1276.9 1267.0 C1284.7 1263.6 1292.2 1259.5 1300.3 1257.0 C1310.1 1253.9 1320.6 1247.1 1330.3 1250.3 C1340.1 1253.5 1343.7 1265.9 1350.4 1273.7"/>
<path d="M1340.3 1226.9 C1349.2 1237.0 1357.8 1247.3 1367.0 1257.0 C1377.9 1268.4 1389.1 1279.4 1400.4 1290.3 C1412.5 1302.2 1424.9 1313.7 1437.1 1325.4"/>
<path d="M1273.6 1270.3 C1281.4 1277.0 1289.1 1283.8 1297.0 1290.3 C1305.2 1297.2 1313.6 1303.7 1322.0 1310.4"/>
<path d="M1333.7 1250.3 C1332.6 1261.4 1332.5 1272.7 1330.3 1283.7 C1328.6 1292.8 1324.8 1301.5 1322.0 1310.4"/>
<path d="M1273.6 1270.3 C1273.8 1285.9 1273.6 1301.5 1274.3 1317.0 C1274.7 1328.2 1273.6 1339.8 1276.9 1350.4 C1278.6 1355.6 1284.7 1358.2 1288.6 1362.1"/>
<path d="M1322.0 1310.4 C1317.0 1319.3 1312.5 1328.5 1307.0 1337.1 C1301.4 1345.7 1294.7 1353.7 1288.6 1362.1"/>
<path d="M1340.3 1253.6 C1341.5 1259.2 1340.0 1266.0 1343.7 1270.3 C1354.0 1282.3 1367.0 1291.9 1380.4 1300.4 C1396.1 1310.3 1413.7 1317.0 1430.4 1325.4"/>
<path d="M1383.7 1300.4 C1382.6 1309.2 1382.0 1318.2 1380.4 1327.0 C1378.6 1336.6 1375.9 1346.0 1373.7 1355.4"/>
<path d="M1373.7 1355.4 C1382.6 1351.0 1391.6 1346.6 1400.4 1342.1 C1411.0 1336.6 1421.5 1330.9 1432.1 1325.4"/>
<path d="M1432.1 1325.4 C1432.1 1339.3 1432.4 1353.2 1432.1 1367.1 C1431.9 1377.7 1431.0 1388.2 1430.4 1398.8"/>
<path d="M1430.4 1398.8 C1420.4 1404.9 1410.7 1411.5 1400.4 1417.1 C1389.5 1423.1 1378.2 1428.3 1367.0 1433.8"/>
<path d="M1435.4 1387.1 C1446.0 1380.4 1456.4 1373.4 1467.1 1367.1 C1478.1 1360.6 1489.4 1354.8 1500.5 1348.7"/>
<path d="M1255.3 1332.0 C1252.5 1331.5 1249.5 1329.2 1246.9 1330.4 C1240.5 1333.4 1235.1 1338.5 1230.2 1343.7 C1221.6 1353.0 1213.8 1363.2 1206.9 1373.8 C1199.9 1384.4 1194.6 1396.0 1188.5 1407.1"/>
<path d="M1543.9 1348.7 C1568.3 1338.2 1592.7 1327.2 1617.3 1317.0 C1644.9 1305.6 1672.3 1293.2 1700.7 1283.7 C1715.3 1278.7 1730.7 1277.0 1745.7 1273.7"/>
<path d="M1537.2 1350.4 C1540.5 1349.3 1543.8 1348.0 1547.2 1347.1 C1565.0 1342.4 1582.4 1336.0 1600.6 1333.7 C1622.7 1331.0 1645.1 1332.6 1667.3 1332.0 C1689.0 1331.5 1710.7 1330.9 1732.4 1330.4"/>
<path d="M1745.7 1273.7 C1744.1 1283.7 1743.1 1293.8 1740.7 1303.7 C1738.6 1312.8 1735.2 1321.5 1732.4 1330.4"/>
<path d="M1732.4 1330.4 L1766.1 1380.4"/>
<path d="M1745.7 1273.7 L1766.1 1297.0"/>
<path d="M1537.2 1350.4 C1540.5 1358.2 1543.1 1366.3 1547.2 1373.8 C1549.3 1377.6 1553.0 1380.3 1555.6 1383.8 C1561.9 1392.5 1567.8 1401.6 1573.9 1410.5"/>
<path d="M1555.6 1382.1 L1555.6 1400.5"/>
<path d="M1340.3 1252.0 L1350.4 1283.7 L1373.7 1355.4 L1393.7 1410.5 L1418.8 1457.2"/>
<path d="M1288.6 1362.1 L1312.0 1368.8 L1283.6 1390.4 L1253.6 1410.5 L1266.9 1410.5 L1290.3 1393.8 L1303.6 1380.4 L1293.6 1399.8"/>
<path d="M1033.4 1511.8 C1044.5 1519.0 1055.7 1526.0 1066.7 1533.5 C1078.0 1541.1 1089.4 1548.5 1100.1 1556.8 C1109.4 1564.1 1118.4 1571.8 1126.8 1580.2 C1135.2 1588.5 1142.8 1597.6 1150.2 1606.9 C1160.6 1619.9 1169.0 1634.5 1180.2 1646.9 C1190.2 1658.0 1203.5 1665.8 1213.5 1676.9 C1223.7 1688.2 1230.5 1702.1 1240.2 1713.6 C1253.9 1729.9 1268.9 1745.0 1283.6 1760.4 C1295.6 1772.8 1308.7 1784.3 1320.3 1797.1 C1331.0 1808.8 1340.3 1821.6 1350.4 1833.8 C1361.4 1847.2 1372.2 1860.8 1383.7 1873.8 C1388.9 1879.7 1394.8 1884.9 1400.4 1890.5"/>
<path d="M1188.5 1403.3 C1186.1 1413.3 1182.4 1423.1 1181.2 1433.4 C1179.1 1451.1 1176.8 1469.0 1178.5 1486.8 C1179.8 1500.6 1184.2 1514.3 1190.2 1526.8 C1197.1 1541.3 1206.9 1554.3 1216.9 1566.8 C1228.1 1581.0 1240.3 1594.6 1253.6 1606.9 C1268.2 1620.3 1284.1 1632.2 1300.3 1643.6 C1322.0 1658.9 1345.0 1672.1 1367.0 1687.0 C1389.5 1702.1 1411.3 1718.5 1433.8 1733.7 C1455.8 1748.5 1478.4 1762.4 1500.5 1777.0 C1509.5 1783.0 1518.3 1789.3 1527.2 1795.4"/>
<path d="M1016.7 1590.2 C1017.2 1593.0 1015.5 1598.2 1018.4 1598.5 C1034.3 1600.7 1050.6 1597.8 1066.7 1596.9 C1077.9 1596.2 1089.1 1595.3 1100.1 1593.5 C1106.4 1592.5 1112.3 1590.2 1118.5 1588.5"/>
<path d="M1021.7 1610.2 C1036.7 1609.1 1051.8 1608.6 1066.7 1606.9 C1081.3 1605.2 1095.7 1602.7 1110.1 1600.2 C1118.0 1598.8 1125.7 1596.9 1133.5 1595.2"/>
<path d="M1031.7 1655.3 C1043.4 1653.6 1055.1 1652.5 1066.7 1650.3 C1081.3 1647.5 1095.5 1642.9 1110.1 1640.2 C1125.6 1637.4 1141.3 1635.8 1156.8 1633.6"/>
<path d="M1021.7 1600.2 C1023.4 1609.1 1025.1 1618.0 1026.7 1626.9 C1028.4 1636.3 1030.0 1645.8 1031.7 1655.3"/>
<path d="M1123.5 1581.8 C1129.0 1590.2 1134.7 1598.4 1140.1 1606.9 C1145.8 1615.7 1151.3 1624.7 1156.8 1633.6"/>
<path d="M1228.6 1556.2 L1315.3 1506.8"/>
<path d="M1228.6 1575.2 L1315.3 1536.8"/>
<path d="M1253.6 1606.9 C1258.0 1603.0 1261.7 1598.0 1266.9 1595.2 C1282.5 1586.8 1299.2 1580.7 1315.3 1573.5"/>
<path d="M1370.4 1476.7 L1547.2 1410.0"/>
<path d="M1380.4 1501.8 L1552.2 1433.4"/>
<path d="M1337.0 1563.5 C1358.1 1553.5 1379.2 1543.3 1400.4 1533.5 C1450.9 1510.0 1501.6 1486.8 1552.2 1463.4"/>
<path d="M1315.3 1500.1 C1315.9 1516.8 1317.2 1533.5 1317.0 1550.2 C1316.7 1569.1 1313.2 1587.9 1313.6 1606.9 C1313.8 1611.6 1315.1 1617.1 1318.7 1620.2 C1321.1 1622.4 1325.9 1622.1 1328.7 1620.2 C1331.8 1618.2 1333.3 1613.9 1333.7 1610.2 C1335.0 1595.8 1333.2 1581.3 1333.7 1566.8 C1334.1 1555.7 1335.4 1544.6 1336.3 1533.5"/>
<path d="M1336.3 1533.5 L1353.7 1556.8 L1390.4 1583.5 L1373.7 1546.8 L1353.7 1503.4 L1377.0 1523.5 L1400.4 1536.8 L1383.7 1500.1 L1367.0 1463.4 L1350.4 1420.0 L1363.7 1448.4 L1417.1 1455.1"/>
<path d="M1315.3 1500.1 L1283.6 1506.8 L1253.6 1513.4 L1276.9 1490.1 L1300.3 1460.1 L1322.0 1431.7 L1293.6 1450.1 L1251.9 1461.7 L1273.6 1430.0 L1293.6 1400.0"/>
<path d="M1555.6 1400.0 C1555.0 1411.1 1554.4 1422.2 1553.9 1433.4 C1553.3 1446.2 1552.8 1458.9 1552.2 1471.7"/>
<path d="M1573.9 1410.0 C1582.8 1418.9 1592.0 1427.5 1600.6 1436.7 C1623.2 1460.9 1645.8 1485.0 1667.3 1510.1 C1679.2 1524.0 1689.5 1539.1 1700.7 1553.5 C1716.2 1573.5 1732.1 1593.3 1747.4 1613.5 C1754.0 1622.2 1759.9 1631.3 1766.1 1640.2"/>
<path d="M1552.2 1471.7 C1562.8 1481.2 1573.7 1490.3 1583.9 1500.1 C1600.9 1516.4 1617.6 1533.1 1634.0 1550.2 C1645.4 1562.1 1657.3 1573.7 1667.3 1586.9 C1679.6 1602.7 1689.1 1620.6 1700.7 1636.9 C1715.2 1657.3 1730.7 1676.9 1745.7 1697.0"/>
<path d="M1754.1 1616.9 C1753.0 1631.3 1752.3 1645.8 1750.8 1660.3 C1749.5 1672.5 1747.4 1684.7 1745.7 1697.0"/>
<path d="M1747.4 1616.9 L1766.1 1608.5"/>
<path d="M1745.7 1697.0 L1766.1 1683.6"/>
<path d="M1627.3 1703.6 C1631.7 1699.2 1635.2 1693.4 1640.6 1690.3 C1646.7 1686.8 1653.8 1685.2 1660.7 1684.3 C1666.2 1683.5 1672.1 1683.3 1677.3 1685.3 C1683.7 1687.7 1688.8 1692.6 1694.0 1697.0 C1698.9 1701.0 1704.1 1704.9 1707.4 1710.3 C1711.0 1716.3 1713.0 1723.4 1714.0 1730.3 C1715.2 1738.0 1715.0 1746.0 1714.0 1753.7 C1712.8 1763.9 1711.7 1774.4 1707.4 1783.7 C1703.7 1791.6 1695.7 1796.6 1690.7 1803.7 C1687.8 1807.8 1685.8 1812.4 1684.0 1817.1 C1682.4 1821.4 1684.8 1828.4 1680.7 1830.4 C1677.1 1832.2 1673.7 1826.4 1670.7 1823.8 C1664.8 1818.6 1658.2 1813.7 1654.0 1807.1 C1648.1 1797.9 1644.2 1787.4 1640.6 1777.0 C1636.9 1766.2 1634.3 1755.0 1632.3 1743.7 C1629.9 1730.4 1629.0 1717.0 1627.3 1703.6"/>
<path d="M1680.7 1830.4 C1680.1 1838.2 1679.9 1846.0 1679.0 1853.8 C1678.2 1860.5 1674.0 1867.2 1675.7 1873.8 C1676.4 1876.5 1681.2 1873.8 1684.0 1873.8"/>
<path d="M1447.1 1731.0 C1464.9 1732.4 1482.7 1733.7 1500.5 1735.3 C1517.2 1736.8 1534.0 1737.7 1550.6 1740.3 C1565.2 1742.7 1579.3 1747.7 1593.9 1750.4 C1607.2 1752.7 1620.6 1753.7 1634.0 1755.4"/>
<path d="M1782.7 1297.0 C1784.9 1295.9 1787.0 1294.6 1789.4 1293.7 C1814.9 1283.5 1840.4 1273.3 1866.1 1263.6 C1899.4 1251.1 1933.2 1240.1 1966.2 1226.9 C1994.4 1215.7 2021.6 1202.1 2049.6 1190.2 C2071.7 1180.9 2094.9 1174.3 2116.4 1163.5 C2139.6 1151.9 2160.4 1136.0 2183.1 1123.5 C2204.9 1111.5 2228.0 1102.1 2249.8 1090.1 C2263.6 1082.6 2276.5 1073.5 2289.9 1065.1"/>
<path d="M1796.0 1308.7 C1819.4 1298.7 1842.5 1288.1 1866.1 1278.7 C1899.3 1265.3 1932.9 1253.3 1966.2 1240.3 C1994.1 1229.4 2022.0 1218.6 2049.6 1206.9 C2072.1 1197.4 2094.2 1187.2 2116.4 1176.9 C2144.3 1163.9 2172.3 1150.9 2199.8 1136.9 C2222.4 1125.3 2243.8 1111.5 2266.5 1100.2 C2283.9 1091.5 2302.1 1084.6 2319.9 1076.8"/>
<path d="M1819.4 1343.7 C1846.1 1331.5 1873.0 1319.8 1899.5 1307.0 C1933.1 1290.8 1965.5 1272.3 1999.6 1257.0 C2032.3 1242.2 2066.3 1230.3 2099.7 1216.9 C2127.5 1205.8 2155.7 1195.7 2183.1 1183.6 C2205.8 1173.5 2227.7 1161.6 2249.8 1150.2 C2266.6 1141.6 2283.6 1133.1 2299.9 1123.5 C2313.7 1115.3 2326.6 1105.7 2339.9 1096.8"/>
<path d="M1784.4 1300.4 L1796.0 1330.4"/>
<path d="M1796.0 1313.7 L1806.0 1333.7 L1819.4 1343.7"/>
<path d="M1766.0 1048.4 C1772.7 1053.4 1779.3 1058.4 1786.0 1063.4 C1792.7 1068.5 1799.1 1073.8 1806.0 1078.5 C1807.5 1079.4 1809.4 1079.6 1811.0 1080.1"/>
<path d="M1811.0 1081.8 C1820.5 1090.1 1829.9 1098.6 1839.4 1106.8 C1849.9 1115.8 1860.5 1124.6 1871.1 1133.5"/>
<path d="M1811.0 1081.8 C1803.8 1100.2 1796.8 1118.6 1789.4 1136.9 C1782.9 1152.5 1776.0 1168.0 1769.3 1183.6"/>
<path d="M1769.3 1183.6 C1779.3 1180.8 1789.6 1178.8 1799.4 1175.2 C1810.8 1171.0 1822.2 1166.3 1832.7 1160.2 C1846.2 1152.4 1858.3 1142.4 1871.1 1133.5"/>
<path d="M1871.1 1133.5 C1872.2 1144.6 1874.2 1155.7 1874.4 1166.9 C1874.7 1179.7 1873.3 1192.5 1872.8 1205.3"/>
<path d="M1769.3 1183.6 C1768.8 1194.7 1768.3 1205.8 1767.7 1216.9 C1767.1 1226.9 1766.6 1237.0 1766.0 1247.0"/>
<path d="M1766.0 1263.6 C1782.7 1252.5 1798.7 1240.4 1816.1 1230.3 C1837.7 1217.6 1860.5 1206.9 1882.8 1195.2"/>
<path d="M1766.0 1287.0 C1777.1 1298.1 1789.1 1308.5 1799.4 1320.4 C1816.9 1340.8 1833.0 1362.4 1849.4 1383.8 C1866.4 1405.8 1883.4 1427.8 1899.5 1450.5 C1909.0 1463.9 1917.3 1478.1 1926.2 1491.9"/>
<path d="M1766.0 1375.4 C1774.9 1389.3 1783.5 1403.4 1792.7 1417.1 C1800.2 1428.4 1808.6 1439.2 1816.1 1450.5 C1821.4 1458.6 1826.1 1467.2 1831.1 1475.5"/>
<path d="M1831.1 1475.5 C1842.7 1476.1 1854.5 1475.6 1866.1 1477.2 C1883.0 1479.5 1899.5 1483.9 1916.2 1487.2"/>
<path d="M1831.1 1475.5 L1799.4 1490.5"/>
<path d="M1777.7 1040.1 C1801.6 1026.7 1825.0 1012.4 1849.4 1000.1 C1879.0 985.1 1909.0 971.1 1939.5 958.3 C1949.1 954.3 1959.5 952.8 1969.5 950.0"/>
<path d="M1777.7 1040.1 L1779.3 1045.1"/>
<path d="M1939.5 956.7 L1922.8 993.4 L1899.5 1026.7 L1877.8 1053.4 L1877.8 1061.8 L1899.5 1046.8 L1916.2 1037.4 L1906.1 1060.1 L1877.8 1096.8 L1896.1 1098.5 L1912.8 1093.5 L1919.5 1098.5 L1906.1 1116.8 L1892.8 1131.8 L1912.8 1130.2 L1931.2 1123.5 L1932.8 1131.8 L1922.8 1145.2 L1939.5 1141.9 L1947.8 1130.2"/>
<path d="M1947.8 1131.8 C1947.8 1140.2 1948.1 1148.5 1947.8 1156.9 C1947.6 1165.8 1946.7 1174.7 1946.2 1183.6"/>
<path d="M1942.8 956.7 L1952.9 993.4 L1966.2 1023.4 L1982.9 1046.8 L1989.6 1066.8 L2002.9 1086.8 L1979.5 1076.8 L1959.5 1065.1 L1956.2 1073.5 L1972.9 1093.5 L1984.6 1110.2 L1966.2 1103.5 L1951.2 1106.8 L1966.2 1123.5 L1979.5 1140.2 L1969.5 1141.9"/>
<path d="M2012.9 1026.7 C2011.2 1023.4 2008.1 1020.5 2007.9 1016.7 C2007.5 1010.0 2009.1 1003.1 2011.2 996.7 C2013.1 991.3 2015.4 985.5 2019.6 981.7 C2022.1 979.4 2026.6 978.5 2029.6 980.0 C2035.2 982.8 2038.1 989.3 2042.9 993.4 C2048.2 997.7 2052.8 1004.7 2059.6 1005.1 C2066.1 1005.4 2070.1 997.0 2076.3 995.0 C2079.5 994.0 2084.3 994.0 2086.3 996.7 C2089.7 1001.3 2087.4 1008.2 2089.7 1013.4 C2091.9 1018.5 2095.0 1023.8 2099.7 1026.7 C2104.5 1029.7 2111.3 1027.5 2116.4 1030.1 C2120.6 1032.2 2124.8 1035.6 2126.4 1040.1 C2127.9 1044.3 2127.0 1049.6 2124.7 1053.4 C2122.2 1057.5 2117.6 1060.5 2113.0 1061.8 C2103.3 1064.5 2092.9 1063.6 2083.0 1065.1 C2074.0 1066.4 2064.9 1067.4 2056.3 1070.1 C2052.5 1071.3 2047.4 1072.9 2046.3 1076.8 C2043.7 1085.9 2051.3 1097.1 2046.3 1105.2 C2043.3 1109.9 2035.1 1104.3 2029.6 1103.5 C2019.6 1102.1 2009.6 1100.2 1999.6 1098.5"/>
<path d="M2079.6 1078.5 C2079.1 1085.7 2078.0 1092.9 2078.0 1100.2 C2078.0 1107.4 2079.1 1114.6 2079.6 1121.8"/>
<path d="M2012.9 958.3 L2014.6 978.4"/>
<path d="M2066.3 950.0 C2066.3 956.7 2065.4 963.4 2066.3 970.0 C2067.1 975.8 2069.6 981.1 2071.3 986.7"/>
<path d="M2149.7 950.0 C2156.4 951.7 2164.0 951.2 2169.7 955.0 C2174.7 958.3 2176.8 964.8 2179.7 970.0 C2183.4 976.5 2187.7 982.9 2189.8 990.0 C2191.6 996.5 2192.6 1003.5 2191.4 1010.1 C2190.3 1016.7 2187.8 1023.7 2183.1 1028.4 C2178.8 1032.6 2172.3 1034.1 2166.4 1035.1 C2158.7 1036.4 2150.0 1031.6 2143.0 1035.1 C2138.1 1037.5 2137.6 1044.8 2136.4 1050.1 C2134.3 1058.8 2133.3 1067.8 2133.0 1076.8 C2132.8 1084.0 2134.1 1091.3 2134.7 1098.5"/>
<path d="M1969.5 950.0 C1977.3 953.9 1984.3 960.5 1992.9 961.7 C2001.9 962.9 2010.6 958.1 2019.6 956.7 C2035.1 954.2 2050.7 952.2 2066.3 950.0"/>
<path d="M2213.1 1008.4 C2216.5 1008.9 2220.0 1008.7 2223.1 1010.1 C2230.2 1013.2 2236.8 1017.4 2243.1 1021.7 C2278.0 1045.7 2312.1 1070.7 2346.6 1095.1"/>
<path d="M2223.1 956.7 L2221.5 1008.4"/>
<path d="M2223.1 956.7 C2229.8 959.5 2236.9 961.5 2243.1 965.0 C2262.5 976.0 2280.9 988.5 2299.9 1000.1 C2316.5 1010.2 2332.0 1022.6 2349.9 1030.1 C2365.7 1036.7 2383.3 1037.9 2400.0 1041.8"/>
<path d="M2243.1 965.0 L2243.1 1021.7"/>
<path d="M2269.8 993.4 L2266.5 1051.8"/>
<path d="M2294.9 1010.1 L2293.2 1071.8"/>
<path d="M2326.6 1030.1 L2324.9 1085.1"/>
<path d="M2189.8 968.4 C2197.5 975.0 2205.1 982.0 2213.1 988.4 C2215.7 990.4 2218.7 991.7 2221.5 993.4"/>
<path d="M2400.0 1041.8 L2343.2 1056.1 L2366.6 1020.1 L2400.0 1041.8"/>
<path d="M2398.3 1043.4 L2393.3 1096.8"/>
<path d="M2354.9 1063.4 C2353.3 1073.5 2351.6 1083.5 2349.9 1093.5 C2348.3 1102.9 2346.6 1112.4 2344.9 1121.8"/>
<path d="M2344.9 1121.8 L2393.3 1096.8"/>
<path d="M2354.9 1071.8 L2393.3 1096.8"/>
<path d="M2286.5 950.0 C2293.2 956.7 2300.1 963.1 2306.5 970.0 C2315.7 979.8 2322.9 991.5 2333.2 1000.1 C2342.1 1007.3 2353.6 1010.5 2363.3 1016.7 C2372.6 1022.8 2381.1 1030.1 2390.0 1036.8"/>
<path d="M2366.6 1121.8 C2377.7 1131.3 2389.4 1140.1 2400.0 1150.2 C2415.0 1164.6 2428.9 1180.2 2443.3 1195.2"/>
<path d="M2390.0 1113.5 C2400.0 1122.4 2410.1 1131.1 2420.0 1140.2 C2430.1 1149.5 2440.0 1159.1 2450.0 1168.6"/>
<path d="M2458.4 1101.8 C2455.6 1105.7 2450.6 1108.7 2450.0 1113.5 C2447.2 1136.7 2448.9 1160.2 2448.3 1183.6 C2447.8 1205.8 2447.6 1228.1 2446.7 1250.3 C2445.9 1269.8 2444.5 1289.2 2443.3 1308.7"/>
<path d="M2458.4 1101.8 L2532.1 1140.2"/>
<path d="M2443.3 1308.7 C2456.7 1321.5 2470.0 1334.3 2483.4 1347.1 C2499.6 1362.6 2515.9 1378.2 2532.1 1393.8"/>
<path d="M2390.0 1267.0 L2443.3 1231.9"/>
<path d="M2410.0 1283.7 L2446.7 1260.3"/>
<path d="M2273.2 1235.3 C2282.1 1233.6 2291.1 1232.5 2299.9 1230.3 C2308.9 1228.0 2317.4 1223.5 2326.6 1221.9 C2331.0 1221.2 2336.1 1221.2 2339.9 1223.6 C2344.6 1226.6 2346.0 1233.0 2349.9 1237.0 C2355.0 1242.0 2361.1 1245.8 2366.6 1250.3 C2373.3 1255.8 2379.9 1261.4 2386.6 1267.0 C2393.3 1272.5 2401.1 1277.0 2406.6 1283.7 C2412.4 1290.6 2416.7 1298.7 2420.0 1307.0 C2423.4 1315.5 2426.2 1324.6 2426.7 1333.7 C2427.3 1344.9 2426.5 1356.4 2423.3 1367.1 C2420.8 1375.7 2416.3 1384.1 2410.0 1390.4 C2403.6 1396.8 2394.7 1400.0 2386.6 1403.8 C2378.0 1407.8 2368.4 1409.5 2359.9 1413.8 C2355.0 1416.3 2350.5 1419.9 2346.6 1423.8 C2341.5 1428.8 2337.1 1434.5 2333.2 1440.5 C2329.2 1446.8 2326.6 1453.8 2323.2 1460.5"/>
<path d="M2273.2 1235.3 C2268.7 1242.5 2262.8 1249.0 2259.8 1257.0 C2256.6 1265.4 2255.1 1274.6 2254.8 1283.7 C2254.5 1294.8 2256.2 1306.0 2258.2 1317.0 C2260.1 1328.3 2262.8 1339.6 2266.5 1350.4 C2270.0 1360.8 2274.7 1370.7 2279.8 1380.4 C2284.8 1389.7 2291.0 1398.2 2296.5 1407.1 C2302.1 1416.0 2308.8 1424.3 2313.2 1433.8 C2317.2 1442.3 2320.0 1451.3 2321.6 1460.5 C2323.3 1470.8 2322.7 1481.4 2323.2 1491.9"/>
<path d="M2425.0 1338.7 C2432.2 1337.6 2439.4 1334.4 2446.7 1335.4 C2451.9 1336.1 2457.0 1339.4 2460.0 1343.7 C2464.1 1349.5 2464.0 1357.3 2466.7 1363.7 C2469.6 1370.6 2475.3 1376.4 2476.7 1383.8 C2478.2 1391.4 2477.7 1399.8 2475.0 1407.1 C2473.0 1412.7 2468.5 1417.5 2463.4 1420.5 C2458.5 1423.3 2452.3 1423.5 2446.7 1423.8 C2441.1 1424.1 2435.6 1422.7 2430.0 1422.1"/>
<path d="M2353.3 1410.5 C2351.0 1416.0 2347.6 1421.2 2346.6 1427.1 C2345.3 1434.8 2345.1 1442.9 2346.6 1450.5 C2347.4 1454.4 2349.7 1458.7 2353.3 1460.5 C2357.2 1462.5 2362.2 1459.8 2366.6 1460.5 C2372.3 1461.5 2377.7 1463.8 2383.3 1465.5"/>
<path d="M2430.0 1422.1 C2431.1 1419.4 2430.4 1414.5 2433.3 1413.8 C2438.8 1412.4 2445.3 1414.0 2450.0 1417.1 C2455.9 1421.1 2457.7 1429.5 2463.4 1433.8 C2469.1 1438.2 2476.3 1440.9 2483.4 1442.2 C2488.9 1443.2 2494.9 1438.5 2500.1 1440.5 C2505.9 1442.8 2510.2 1448.4 2513.4 1453.8 C2517.0 1459.9 2518.6 1467.0 2520.1 1473.9 C2521.4 1479.7 2521.2 1485.9 2521.8 1491.9"/>
<path d="M2390.0 1491.9 C2392.2 1482.5 2393.7 1473.0 2396.6 1463.8 C2399.2 1455.8 2402.6 1447.9 2406.6 1440.5 C2410.4 1433.4 2414.3 1426.1 2420.0 1420.5 C2423.5 1417.0 2428.9 1416.0 2433.3 1413.8"/>
<path d="M2369.9 1460.5 L2369.9 1491.9"/>
<path d="M1919.5 1312.0 C1935.1 1306.5 1952.2 1304.1 1966.2 1295.3 C1975.3 1289.7 1978.4 1277.6 1986.2 1270.3 C1993.0 1264.0 2001.8 1260.3 2009.6 1255.3"/>
<path d="M2009.6 1255.3 C2012.9 1260.3 2015.4 1266.0 2019.6 1270.3 C2026.7 1277.7 2035.3 1283.5 2042.9 1290.3 C2050.9 1297.4 2058.5 1304.8 2066.3 1312.0"/>
<path d="M1966.2 1297.0 C1970.6 1304.8 1974.0 1313.3 1979.5 1320.4 C1989.7 1333.4 2001.8 1344.8 2012.9 1357.1 C2024.0 1369.3 2035.2 1381.5 2046.3 1393.8"/>
<path d="M1919.5 1312.0 C1922.8 1315.9 1925.7 1320.3 1929.5 1323.7 C1941.3 1334.2 1954.5 1343.1 1966.2 1353.7 C1977.9 1364.3 1988.7 1375.7 1999.6 1387.1 C2008.8 1396.8 2018.5 1406.2 2026.3 1417.1 C2030.9 1423.6 2032.9 1431.6 2036.3 1438.8"/>
<path d="M2066.3 1312.0 C2064.6 1321.5 2063.4 1331.0 2061.3 1340.4 C2059.0 1350.5 2055.8 1360.4 2053.0 1370.4 C2050.8 1378.2 2048.5 1386.0 2046.3 1393.8"/>
<path d="M2066.3 1312.0 C2073.0 1319.3 2079.1 1327.0 2086.3 1333.7 C2094.7 1341.5 2104.1 1348.2 2113.0 1355.4"/>
<path d="M2046.3 1390.4 C2053.0 1388.2 2059.8 1386.5 2066.3 1383.8 C2075.4 1379.8 2084.4 1375.4 2093.0 1370.4 C2098.9 1367.0 2104.1 1362.6 2109.7 1358.7"/>
<path d="M2109.7 1358.7 L2133.0 1377.1"/>
<path d="M2036.3 1438.8 C2046.3 1431.6 2056.0 1423.9 2066.3 1417.1 C2077.1 1410.0 2088.4 1403.5 2099.7 1397.1 C2106.2 1393.5 2113.3 1390.9 2119.7 1387.1 C2124.5 1384.2 2128.6 1380.4 2133.0 1377.1"/>
<path d="M2046.3 1393.8 C2044.6 1401.6 2043.0 1409.4 2041.3 1417.1 C2039.7 1424.4 2037.9 1431.6 2036.3 1438.8"/>
<path d="M1931.2 1323.7 C1930.6 1335.9 1930.3 1348.2 1929.5 1360.4 C1928.7 1372.7 1927.3 1384.9 1926.2 1397.1"/>
<path d="M1926.2 1397.1 C1935.1 1406.0 1944.5 1414.4 1952.9 1423.8 C1963.4 1435.6 1973.1 1448.1 1982.9 1460.5 C1990.9 1470.8 1998.5 1481.4 2006.2 1491.9"/>
<path d="M2119.7 1387.1 C2120.2 1394.9 2120.8 1402.7 2121.4 1410.5 C2121.9 1417.1 2122.5 1423.8 2123.0 1430.5"/>
<path d="M2123.0 1430.5 C2104.1 1443.8 2085.4 1457.5 2066.3 1470.5 C2055.4 1478.0 2044.1 1484.8 2032.9 1491.9"/>
<path d="M2027.9 1443.8 L2024.6 1491.9"/>
<path d="M2568.7 991.7 C2565.9 992.3 2558.1 995.0 2560.4 993.4 C2570.3 986.3 2581.6 981.3 2592.1 975.0 C2605.5 966.9 2618.8 958.3 2632.1 950.0"/>
<path d="M2563.7 1000.1 C2558.7 1004.5 2553.5 1008.8 2548.7 1013.4 C2543.0 1018.8 2537.6 1024.6 2532.0 1030.1 C2507.6 1054.0 2483.1 1077.9 2458.6 1101.8"/>
<path d="M2563.7 1000.1 C2566.5 1011.2 2570.2 1022.1 2572.0 1033.4 C2575.2 1052.2 2575.7 1071.3 2578.7 1090.1 C2581.2 1105.9 2586.0 1121.2 2588.7 1136.9 C2590.4 1146.8 2590.9 1156.9 2592.1 1166.9"/>
<path d="M2532.0 1141.9 C2542.0 1146.9 2552.0 1152.0 2562.0 1156.9 C2571.4 1161.4 2580.9 1165.8 2590.4 1170.2"/>
<path d="M2592.1 1166.9 C2605.4 1160.2 2619.5 1154.9 2632.1 1146.9 C2647.5 1137.0 2660.1 1123.3 2675.5 1113.5 C2693.6 1102.0 2714.0 1094.8 2732.2 1083.5 C2755.3 1069.1 2777.0 1052.7 2798.9 1036.8 C2819.8 1021.6 2840.1 1005.6 2860.7 990.0"/>
<path d="M2778.9 950.0 C2785.6 955.6 2791.9 961.6 2798.9 966.7 C2807.5 972.8 2816.6 978.0 2825.6 983.4 C2835.5 989.2 2845.6 994.5 2855.7 1000.1"/>
<path d="M2862.3 990.0 C2862.3 1004.5 2863.0 1019.0 2862.3 1033.4 C2861.3 1055.7 2858.2 1077.9 2857.3 1100.2 C2856.6 1119.0 2856.7 1138.0 2857.3 1156.9 C2857.8 1173.6 2859.5 1190.2 2860.7 1206.9"/>
<path d="M2860.7 1206.9 C2851.2 1212.5 2841.0 1216.9 2832.3 1223.6 C2814.8 1237.0 2799.2 1252.9 2782.3 1267.0 C2765.8 1280.7 2749.2 1294.0 2732.2 1307.0 C2715.8 1319.6 2698.0 1330.4 2682.2 1343.7 C2670.1 1353.8 2660.5 1366.6 2648.8 1377.1 C2639.3 1385.5 2629.1 1393.1 2618.8 1400.5 C2607.9 1408.1 2596.5 1414.9 2585.4 1422.1"/>
<path d="M2592.1 1170.2 C2590.9 1196.9 2589.5 1223.6 2588.7 1250.3 C2587.8 1283.7 2587.7 1317.0 2587.1 1350.4 C2586.6 1374.3 2585.9 1398.2 2585.4 1422.1"/>
<path d="M2532.0 1390.4 C2540.9 1398.2 2550.1 1405.7 2558.7 1413.8 C2566.7 1421.3 2574.3 1429.4 2582.1 1437.2"/>
<path d="M2585.4 1422.1 L2582.1 1437.2"/>
<path d="M2802.3 1131.8 C2803.4 1131.3 2805.5 1131.4 2805.6 1130.2 C2806.9 1114.7 2805.6 1099.0 2806.3 1083.5 C2806.7 1073.4 2804.1 1062.2 2808.9 1053.4 C2811.0 1049.6 2815.8 1059.4 2817.3 1063.4 C2820.4 1072.0 2821.6 1081.1 2822.3 1090.1 C2823.3 1103.4 2827.4 1117.9 2822.3 1130.2 C2820.2 1135.3 2811.2 1130.2 2805.6 1130.2"/>
<path d="M2872.3 1031.1 C2881.2 1033.0 2890.4 1034.0 2899.0 1036.8 C2910.5 1040.4 2921.9 1044.3 2932.4 1050.1 C2944.3 1056.6 2955.3 1064.8 2965.8 1073.5 C2974.3 1080.5 2981.9 1088.5 2989.1 1096.8 C2996.4 1105.2 3005.0 1113.2 3009.1 1123.5 C3012.0 1130.7 3011.5 1139.4 3009.1 1146.9 C3005.7 1157.8 2999.2 1167.6 2992.5 1176.9 C2984.6 1187.8 2975.5 1197.7 2965.8 1206.9 C2955.4 1216.7 2943.8 1225.1 2932.4 1233.6 C2921.5 1241.8 2909.9 1248.8 2899.0 1257.0 C2887.6 1265.5 2877.1 1275.1 2865.7 1283.7 C2854.8 1291.8 2842.6 1298.2 2832.3 1307.0 C2820.3 1317.2 2810.3 1329.6 2798.9 1340.4 C2788.1 1350.7 2776.4 1360.1 2765.6 1370.4 C2754.2 1381.3 2743.3 1392.7 2732.2 1403.8 C2721.1 1414.9 2709.7 1425.7 2698.8 1437.2 C2689.6 1446.9 2681.2 1457.3 2672.1 1467.2 C2664.5 1475.5 2656.6 1483.6 2648.8 1491.9"/>
<path d="M3135.9 1310.4 C3139.3 1307.0 3142.0 1303.0 3145.9 1300.4 C3148.9 1298.4 3152.6 1296.0 3156.0 1297.0 C3158.2 1297.6 3158.5 1301.6 3157.6 1303.7 C3155.5 1308.8 3152.9 1315.4 3147.6 1317.0 C3143.3 1318.4 3139.8 1312.6 3135.9 1310.4"/>
<path d="M3135.9 1310.4 C3135.7 1323.7 3135.9 1337.1 3135.3 1350.4 C3134.2 1372.7 3132.1 1394.9 3130.9 1417.1 C3129.6 1442.0 3128.7 1467.0 3127.6 1491.9"/>
<path d="M3147.6 1317.0 C3147.4 1333.7 3146.7 1350.4 3146.9 1367.1 C3147.3 1389.3 3148.4 1411.6 3149.3 1433.8 C3150.1 1453.2 3151.1 1472.5 3152.0 1491.9"/>
<path d="M3157.6 1303.7 C3158.2 1319.3 3158.3 1334.9 3159.3 1350.4 C3161.1 1378.2 3163.3 1406.0 3166.0 1433.8 C3167.8 1453.2 3170.4 1472.5 3172.6 1491.9"/>
<path d="M3147.6 1240.3 L3146.9 1262.0"/>
<path d="M3452.2 945.0 C3445.3 956.7 3438.9 968.7 3431.5 980.0 C3420.9 996.0 3409.2 1011.2 3398.1 1026.7 C3387.0 1042.3 3375.9 1057.9 3364.7 1073.5"/>
<path d="M3452.2 945.0 C3461.9 954.4 3472.1 963.5 3481.5 973.4 C3489.7 981.9 3497.5 990.8 3504.9 1000.1 C3514.2 1011.9 3522.4 1024.8 3531.6 1036.8 C3540.7 1048.7 3550.5 1060.1 3559.9 1071.8"/>
<path d="M3528.2 950.0 C3531.6 961.1 3534.9 972.3 3538.2 983.4 C3542.6 997.8 3548.0 1012.1 3551.6 1026.7 C3555.2 1041.6 3557.1 1056.8 3559.9 1071.8"/>
<path d="M3371.4 1085.1 C3380.3 1084.0 3389.1 1082.3 3398.1 1081.8 C3420.3 1080.6 3442.6 1081.7 3464.8 1080.1 C3481.6 1078.9 3498.1 1075.2 3514.9 1073.5 C3530.4 1071.9 3546.0 1071.2 3561.6 1070.1"/>
<path d="M3559.9 1071.8 C3557.1 1092.4 3554.4 1112.9 3551.6 1133.5 C3549.3 1150.2 3546.9 1166.8 3544.9 1183.6 C3543.0 1200.2 3540.9 1216.9 3539.9 1233.6 C3538.9 1250.3 3539.2 1267.0 3538.9 1283.7"/>
<path d="M3364.7 1076.8 C3364.2 1090.1 3364.3 1103.5 3363.1 1116.8 C3361.0 1139.2 3357.9 1161.4 3354.7 1183.6 C3351.8 1203.7 3346.9 1223.5 3344.7 1243.6 C3342.2 1266.3 3342.0 1289.2 3340.7 1312.0"/>
<path d="M3340.7 1312.0 C3348.7 1310.9 3356.7 1309.9 3364.7 1308.7 C3375.9 1307.1 3387.1 1306.2 3398.1 1303.7 C3411.7 1300.6 3424.5 1294.7 3438.1 1292.0 C3452.4 1289.2 3467.0 1288.2 3481.5 1287.0 C3500.6 1285.4 3519.8 1284.8 3538.9 1283.7"/>
<path d="M3318.0 950.0 C3322.5 961.1 3326.9 972.2 3331.4 983.4 C3338.0 1000.1 3345.3 1016.5 3351.4 1033.4 C3356.5 1047.7 3360.3 1062.3 3364.7 1076.8"/>
<path d="M3298.0 1136.9 C3301.3 1154.6 3303.6 1172.7 3308.0 1190.2 C3312.5 1208.3 3319.9 1225.6 3324.7 1243.6 C3330.8 1266.2 3335.4 1289.2 3340.7 1312.0"/>
<path d="M3301.3 1076.8 L3298.0 1096.8"/>
<path d="M3318.0 1116.8 L3313.0 1145.2"/>
<path d="M3334.7 1155.2 L3328.0 1205.3"/>
<path d="M3831.9 950.0 C3839.1 957.2 3850.6 961.9 3853.6 971.7 C3857.9 986.1 3853.8 1001.8 3851.9 1016.7 C3849.9 1032.5 3846.9 1048.3 3841.9 1063.4 C3835.7 1081.9 3827.8 1099.8 3818.5 1116.8 C3807.7 1136.6 3794.7 1155.1 3781.8 1173.6 C3771.4 1188.5 3760.4 1203.1 3748.5 1216.9 C3732.5 1235.4 3714.3 1251.8 3698.4 1270.3 C3680.9 1290.8 3664.9 1312.5 3648.4 1333.7 C3637.1 1348.1 3627.6 1363.9 3615.0 1377.1 C3605.2 1387.4 3591.7 1393.7 3581.6 1403.8 C3569.3 1416.1 3559.4 1430.5 3548.3 1443.8"/>
<path d="M3925.3 1043.4 C3910.8 1065.7 3896.2 1087.8 3881.9 1110.2 C3865.0 1136.7 3848.3 1163.4 3831.9 1190.2 C3818.3 1212.4 3804.7 1234.5 3791.8 1257.0 C3782.4 1273.4 3774.9 1290.8 3765.1 1307.0 C3749.3 1333.2 3732.0 1358.4 3715.1 1383.8 C3698.7 1408.4 3681.7 1432.7 3665.0 1457.2"/>
<path d="M1798.0 1450.0 L1830.5 1475.0"/>
<path d="M1830.5 1475.0 L1938.0 1500.0"/>
<path d="M1830.5 1475.0 C1819.7 1495.0 1807.9 1514.5 1798.0 1535.0 C1787.0 1557.9 1778.0 1581.7 1768.0 1605.0"/>
<path d="M1898.0 1450.0 L1940.5 1500.0"/>
<path d="M1940.5 1500.0 L1925.5 1512.5"/>
<path d="M1768.0 1605.0 C1794.7 1588.3 1820.9 1570.9 1848.0 1555.0 C1873.4 1540.1 1899.7 1526.7 1925.5 1512.5"/>
<path d="M1925.5 1512.5 L1925.5 1570.0"/>
<path d="M1925.5 1570.0 C1899.7 1586.7 1873.8 1603.3 1848.0 1620.0 C1814.6 1641.6 1781.3 1663.3 1748.0 1685.0"/>
<path d="M1748.0 1612.5 L1768.0 1605.0"/>
<path d="M1758.0 1615.0 L1748.0 1690.0"/>
<path d="M1798.0 1592.5 L1813.0 1591.5 L1813.0 1620.0 L1798.0 1620.0 L1798.0 1592.5"/>
<path d="M1838.0 1625.0 L1839.0 1579.0 L1863.0 1575.0 L1860.5 1615.0"/>
<path d="M1880.5 1552.5 L1893.0 1550.0 L1893.0 1572.5 L1882.0 1571.5 L1880.5 1552.5"/>
<path d="M1975.5 1450.0 L2022.0 1505.0"/>
<path d="M2022.0 1450.0 L2022.0 1505.0"/>
<path d="M2022.0 1505.0 L2098.0 1450.0"/>
<path d="M1918.0 1767.5 C1961.3 1763.3 2004.6 1758.1 2048.0 1755.0 C2081.3 1752.6 2114.6 1751.2 2148.0 1751.0 C2181.3 1750.8 2214.7 1753.7 2248.0 1754.0 C2273.0 1754.2 2298.1 1755.0 2323.0 1752.5 C2336.7 1751.1 2350.6 1748.4 2363.0 1742.5 C2381.0 1734.0 2397.1 1721.9 2413.0 1710.0 C2433.8 1694.4 2452.1 1675.5 2473.0 1660.0 C2497.1 1642.1 2524.5 1628.8 2548.0 1610.0 C2574.7 1588.6 2600.5 1565.7 2623.0 1540.0 C2647.4 1512.2 2666.3 1480.0 2688.0 1450.0"/>
<path d="M1748.0 1812.5 C1768.0 1810.0 1788.0 1807.1 1808.0 1805.0 C1828.0 1802.9 1848.0 1801.7 1868.0 1800.0"/>
<path d="M1928.0 1800.0 C1968.0 1799.2 2008.1 1799.8 2048.0 1797.5 C2081.4 1795.6 2114.6 1789.7 2148.0 1787.5 C2173.0 1785.9 2198.0 1784.4 2223.0 1786.0 C2236.6 1786.9 2250.9 1788.7 2263.0 1795.0 C2273.4 1800.5 2281.3 1810.3 2288.0 1820.0 C2296.5 1832.3 2299.3 1847.9 2308.0 1860.0 C2316.2 1871.5 2327.8 1880.2 2338.0 1890.0 C2347.0 1898.6 2356.3 1906.7 2365.5 1915.0"/>
<path d="M1895.5 1880.0 C1893.0 1876.7 1890.3 1873.5 1888.0 1870.0 C1882.7 1861.8 1876.4 1854.1 1873.0 1845.0 C1868.8 1833.8 1866.3 1821.9 1865.5 1810.0 C1864.6 1796.7 1863.4 1782.5 1868.0 1770.0 C1869.9 1764.8 1877.5 1763.3 1883.0 1762.5 C1889.7 1761.5 1897.1 1761.8 1903.0 1765.0 C1910.3 1768.9 1916.5 1775.3 1920.5 1782.5 C1924.3 1789.2 1925.5 1797.3 1925.5 1805.0 C1925.5 1811.9 1924.4 1819.4 1920.5 1825.0 C1916.4 1830.9 1909.8 1835.1 1903.0 1837.5 C1895.9 1840.0 1887.6 1836.5 1880.5 1839.0 C1878.6 1839.7 1881.5 1843.0 1882.0 1845.0"/>
<path d="M1968.0 1815.0 C1972.2 1815.8 1977.6 1814.4 1980.5 1817.5 C1987.6 1825.2 1991.4 1835.4 1995.5 1845.0 C1998.9 1853.0 2003.0 1861.3 2003.0 1870.0 C2003.0 1877.9 2000.4 1886.3 1995.5 1892.5 C1990.6 1898.7 1983.3 1905.6 1975.5 1905.0 C1968.4 1904.5 1964.2 1896.0 1960.5 1890.0 C1955.7 1882.4 1951.7 1873.9 1950.5 1865.0 C1949.1 1855.1 1949.7 1844.5 1953.0 1835.0 C1955.8 1827.1 1963.0 1821.7 1968.0 1815.0"/>
<path d="M1973.0 1902.5 L1970.5 1942.5"/>
<path d="M1924.0 1967.5 C1937.0 1965.3 1950.3 1957.6 1963.0 1961.0 C1969.7 1962.8 1970.2 1973.2 1971.5 1980.0 C1973.6 1991.5 1974.2 2003.4 1973.0 2015.0 C1972.1 2023.7 1970.0 2032.5 1965.5 2040.0 C1962.2 2045.6 1957.0 2053.0 1950.5 2052.5 C1943.5 2051.9 1939.1 2043.6 1935.5 2037.5 C1930.6 2029.1 1927.1 2019.6 1925.5 2010.0 C1923.2 1996.0 1924.5 1981.7 1924.0 1967.5"/>
<path d="M1952.0 2052.5 L1952.0 2087.5"/>
<path d="M2275.5 2014.0 C2293.0 1999.3 2310.8 1985.1 2328.0 1970.0 C2347.5 1952.9 2366.3 1935.0 2385.5 1917.5"/>
<path d="M2385.5 1917.5 C2406.3 1931.7 2427.3 1945.7 2448.0 1960.0 C2464.8 1971.5 2481.2 1983.5 2498.0 1995.0 C2521.2 2011.0 2544.7 2026.7 2568.0 2042.5"/>
<path d="M2385.5 1920.0 C2388.0 1930.0 2391.0 1939.9 2393.0 1950.0 C2394.8 1959.1 2395.7 1968.3 2397.0 1977.5"/>
<path d="M2280.5 2014.0 C2299.7 2008.5 2318.9 2003.1 2338.0 1997.5 C2354.7 1992.6 2371.3 1987.5 2388.0 1982.5"/>
<path d="M2388.0 1982.5 C2404.7 1993.3 2421.3 2004.2 2438.0 2015.0 C2454.7 2025.8 2471.3 2036.7 2488.0 2047.5"/>
<path d="M2488.0 2047.5 C2501.3 2046.7 2514.7 2045.8 2528.0 2045.0 C2541.3 2044.2 2554.7 2043.3 2568.0 2042.5"/>
<path d="M2488.0 2047.5 C2483.0 2061.7 2476.6 2075.4 2473.0 2090.0 C2468.2 2109.7 2466.3 2130.0 2463.0 2150.0"/>
<path d="M2368.0 2100.0 C2378.0 2105.0 2388.3 2109.4 2398.0 2115.0 C2408.4 2121.1 2418.9 2127.1 2428.0 2135.0 C2438.2 2143.9 2446.3 2155.0 2455.5 2165.0"/>
<path d="M2463.0 2145.0 C2478.0 2130.0 2492.8 2114.8 2508.0 2100.0 C2527.8 2080.6 2548.0 2061.7 2568.0 2042.5"/>
<path d="M2568.0 2042.5 C2565.5 2056.7 2562.8 2070.8 2560.5 2085.0 C2558.2 2099.1 2556.2 2113.3 2554.0 2127.5"/>
<path d="M2463.0 2150.0 C2460.5 2158.3 2457.1 2166.4 2455.5 2175.0 C2453.7 2184.9 2453.8 2195.0 2453.0 2205.0"/>
<path d="M2554.0 2127.5 C2538.7 2141.7 2524.3 2157.0 2508.0 2170.0 C2493.9 2181.2 2478.0 2190.0 2463.0 2200.0"/>
<path d="M2520.5 2095.0 L2535.5 2094.0 L2537.0 2122.5 L2525.5 2122.5 L2523.0 2100.0"/>
<path d="M2088.0 2180.0 C2116.3 2155.0 2144.9 2130.3 2173.0 2105.0 C2203.2 2077.8 2233.0 2050.0 2263.0 2022.5"/>
<path d="M2263.0 2022.5 C2276.3 2030.8 2289.9 2038.9 2303.0 2047.5 C2316.5 2056.4 2329.7 2065.8 2343.0 2075.0"/>
<path d="M2263.0 2025.0 C2265.5 2033.3 2268.0 2041.7 2270.5 2050.0 C2273.0 2058.3 2275.5 2066.7 2278.0 2075.0"/>
<path d="M2278.0 2077.5 C2288.0 2078.0 2298.0 2079.4 2308.0 2079.0 C2319.7 2078.5 2331.3 2076.3 2343.0 2075.0"/>
<path d="M2343.0 2075.0 C2341.3 2083.3 2339.8 2091.7 2338.0 2100.0 C2336.4 2107.5 2334.7 2115.0 2333.0 2122.5"/>
<path d="M2080.5 2195.0 L2270.5 2067.5"/>
<path d="M2133.0 2160.0 C2136.3 2173.3 2139.6 2186.7 2143.0 2200.0 C2146.2 2212.5 2149.7 2225.0 2153.0 2237.5"/>
<path d="M2153.0 2232.5 C2176.3 2215.0 2200.0 2197.9 2223.0 2180.0 C2248.3 2160.4 2273.4 2140.5 2298.0 2120.0 C2313.4 2107.2 2328.0 2093.3 2343.0 2080.0"/>
<path d="M2080.5 2195.0 C2093.0 2201.7 2105.5 2208.3 2118.0 2215.0 C2127.2 2220.0 2136.3 2225.0 2145.5 2230.0"/>
<path d="M2327.5 1492.0 C2326.0 1501.3 2325.0 1510.8 2323.0 1520.0 C2321.0 1529.6 2318.0 1539.0 2315.5 1548.5"/>
<path d="M2369.5 1492.0 L2365.5 1560.0"/>
<path d="M2390.0 1492.0 C2389.0 1498.0 2385.7 1504.0 2387.0 1510.0 C2388.6 1517.4 2393.6 1523.8 2398.0 1530.0 C2404.8 1539.7 2411.1 1550.3 2420.5 1557.5 C2428.3 1563.4 2438.2 1567.0 2448.0 1568.0 C2455.7 1568.8 2464.6 1567.5 2470.5 1562.5 C2482.3 1552.4 2489.0 1537.6 2498.0 1525.0 C2505.7 1514.1 2513.0 1503.0 2520.5 1492.0"/>
<path d="M2420.5 1560.0 L2415.5 1640.0"/>
<path d="M3128.5 1450.0 L3126.0 1550.0"/>
<path d="M3148.5 1450.0 L3153.5 1570.0"/>
<path d="M3168.5 1450.0 L3183.5 1540.0"/>
<path d="M3121.0 1552.5 L3153.5 1572.5 L3183.5 1539.0"/>
<path d="M3123.5 1555.0 C3119.3 1570.0 3115.7 1585.2 3111.0 1600.0 C3105.7 1616.5 3099.3 1632.7 3093.5 1649.0"/>
<path d="M3183.5 1539.0 C3187.7 1552.7 3192.2 1566.2 3196.0 1580.0 C3198.9 1590.7 3201.0 1601.7 3203.5 1612.5"/>
<path d="M3153.5 1580.0 L3152.0 1675.0"/>
<path d="M3093.5 1649.0 C3102.7 1651.0 3112.4 1651.2 3121.0 1655.0 C3132.2 1660.0 3141.7 1668.3 3152.0 1675.0"/>
<path d="M3152.0 1675.0 C3160.0 1663.3 3167.0 1650.9 3176.0 1640.0 C3184.2 1630.0 3194.3 1621.7 3203.5 1612.5"/>
<path d="M3548.0 1444.0 C3530.7 1457.7 3512.6 1470.5 3496.0 1485.0 C3470.3 1507.5 3447.7 1533.6 3421.0 1555.0 C3397.5 1573.8 3369.6 1586.4 3346.0 1605.0 C3322.8 1623.2 3303.4 1645.8 3281.0 1665.0 C3251.7 1690.0 3221.0 1713.3 3191.0 1737.5 C3169.3 1755.0 3147.7 1772.5 3126.0 1790.0"/>
<path d="M3665.0 1457.0 C3650.3 1473.0 3636.4 1489.7 3621.0 1505.0 C3596.7 1529.1 3571.6 1552.3 3546.0 1575.0 C3513.3 1604.0 3479.0 1631.2 3446.0 1660.0 C3419.8 1682.9 3393.8 1706.1 3368.5 1730.0 C3344.4 1752.8 3321.5 1776.7 3298.0 1800.0"/>
<path d="M1400.0 1885.0 C1416.7 1900.0 1432.3 1916.2 1450.0 1930.0 C1470.8 1946.2 1492.7 1960.9 1515.0 1975.0 C1542.8 1992.6 1571.7 2008.2 1600.0 2025.0 C1633.4 2044.9 1667.5 2063.7 1700.0 2085.0 C1725.9 2102.0 1750.4 2121.1 1775.0 2140.0 C1800.4 2159.5 1825.8 2179.0 1850.0 2200.0 C1875.8 2222.4 1902.2 2244.5 1925.0 2270.0 C1944.1 2291.4 1959.5 2315.9 1975.0 2340.0 C1992.8 2367.6 2009.6 2396.0 2025.0 2425.0 C2037.9 2449.4 2048.3 2475.0 2060.0 2500.0"/>
<path d="M1525.0 1800.0 C1550.0 1816.7 1576.0 1832.0 1600.0 1850.0 C1629.4 1872.0 1655.9 1897.6 1685.0 1920.0 C1714.3 1942.6 1745.5 1962.7 1775.0 1985.0 C1800.5 2004.3 1825.4 2024.5 1850.0 2045.0 C1875.4 2066.2 1901.2 2087.0 1925.0 2110.0 C1951.3 2135.4 1976.3 2162.2 2000.0 2190.0 C2024.7 2218.9 2048.3 2248.8 2070.0 2280.0 C2090.1 2308.9 2107.6 2339.4 2125.0 2370.0 C2142.7 2401.1 2158.1 2433.5 2175.0 2465.0 C2183.1 2480.1 2190.3 2495.8 2200.0 2510.0 C2212.1 2527.6 2224.5 2545.3 2240.0 2560.0 C2254.8 2574.0 2271.6 2586.3 2290.0 2595.0 C2305.5 2602.4 2323.0 2610.0 2340.0 2607.5 C2358.8 2604.7 2375.0 2591.8 2390.0 2580.0 C2410.4 2564.0 2427.5 2544.1 2445.0 2525.0 C2464.2 2504.1 2481.3 2481.3 2500.0 2460.0 C2515.6 2442.2 2532.0 2425.0 2548.0 2407.5"/>
<path d="M1685.0 1895.0 C1698.3 1884.2 1711.2 1872.7 1725.0 1862.5 C1739.5 1851.8 1752.4 1836.6 1770.0 1832.5 C1780.5 1830.0 1790.7 1839.5 1800.0 1845.0 C1825.8 1860.4 1850.8 1877.2 1875.0 1895.0 C1900.8 1913.9 1924.6 1935.6 1950.0 1955.0 C1967.1 1968.1 1986.9 1977.7 2002.5 1992.5 C2005.5 1995.4 2004.0 2001.1 2002.5 2005.0 C1996.4 2020.6 1986.5 2034.5 1980.0 2050.0 C1973.1 2066.3 1966.8 2082.9 1962.5 2100.0 C1960.1 2109.7 1960.8 2120.0 1960.0 2130.0"/>
<path d="M1625.0 1852.5 C1643.3 1845.0 1660.9 1835.1 1680.0 1830.0 C1711.1 1821.7 1743.2 1817.7 1775.0 1812.5 C1804.9 1807.7 1835.0 1804.2 1865.0 1800.0"/>
<path d="M2080.0 2207.5 L2070.0 2282.5"/>
<path d="M2070.0 2282.5 C2080.0 2290.0 2090.4 2297.0 2100.0 2305.0 C2110.4 2313.7 2120.0 2323.3 2130.0 2332.5"/>
<path d="M2145.0 2232.5 C2141.7 2248.3 2137.4 2264.0 2135.0 2280.0 C2132.4 2297.4 2131.7 2315.0 2130.0 2332.5"/>
<path d="M2080.0 2190.0 C2090.0 2196.7 2099.8 2203.7 2110.0 2210.0 C2121.4 2217.0 2133.3 2223.3 2145.0 2230.0"/>
<path d="M2080.0 2190.0 L2135.0 2157.5"/>
<path d="M2135.0 2157.5 C2138.3 2171.7 2141.5 2185.9 2145.0 2200.0 C2148.1 2212.6 2151.7 2225.0 2155.0 2237.5"/>
<path d="M2102.5 2240.0 L2117.5 2239.0 L2117.5 2267.5 L2104.0 2267.5 L2102.5 2240.0"/>
<path d="M2130.0 2310.0 L2185.0 2270.0"/>
<path d="M2185.0 2270.0 C2203.3 2243.3 2219.1 2214.7 2240.0 2190.0 C2260.2 2166.1 2285.0 2146.7 2307.5 2125.0"/>
<path d="M2307.5 2125.0 C2313.3 2133.3 2319.0 2141.8 2325.0 2150.0 C2329.9 2156.8 2335.0 2163.3 2340.0 2170.0"/>
<path d="M2312.5 2130.0 C2333.3 2138.3 2354.2 2146.7 2375.0 2155.0 C2400.0 2165.0 2426.1 2172.7 2450.0 2185.0 C2455.8 2188.0 2458.3 2195.0 2462.5 2200.0"/>
<path d="M2340.0 2170.0 C2360.0 2176.7 2379.8 2183.9 2400.0 2190.0 C2418.2 2195.5 2436.7 2200.0 2455.0 2205.0"/>
<path d="M2185.0 2270.0 C2206.7 2261.7 2229.3 2255.6 2250.0 2245.0 C2267.1 2236.3 2281.7 2223.3 2297.5 2212.5"/>
<path d="M2297.5 2212.5 C2301.7 2233.3 2304.1 2254.6 2310.0 2275.0 C2315.0 2292.2 2325.9 2307.5 2330.0 2325.0 C2333.5 2339.6 2331.7 2355.0 2332.5 2370.0"/>
<path d="M2185.0 2275.0 C2206.7 2291.7 2229.1 2307.4 2250.0 2325.0 C2276.6 2347.4 2301.7 2371.7 2327.5 2395.0"/>
<path d="M2182.5 2280.0 C2180.0 2296.7 2177.4 2313.3 2175.0 2330.0 C2172.4 2347.5 2170.0 2365.0 2167.5 2382.5"/>
<path d="M2167.5 2382.5 C2186.7 2395.0 2206.0 2407.2 2225.0 2420.0 C2241.9 2431.4 2260.0 2441.3 2275.0 2455.0 C2289.4 2468.2 2300.0 2485.0 2312.5 2500.0"/>
<path d="M2325.0 2380.0 C2323.3 2400.0 2322.1 2420.0 2320.0 2440.0 C2317.9 2460.0 2315.0 2480.0 2312.5 2500.0"/>
<path d="M2330.0 2370.0 C2353.3 2343.3 2376.2 2316.3 2400.0 2290.0 C2424.5 2262.9 2450.0 2236.7 2475.0 2210.0"/>
<path d="M2475.0 2210.0 C2475.8 2226.7 2476.6 2243.3 2477.5 2260.0 C2478.3 2274.2 2479.2 2288.3 2480.0 2302.5"/>
<path d="M2480.0 2302.5 C2453.3 2335.0 2426.5 2367.4 2400.0 2400.0 C2372.3 2434.0 2345.0 2468.3 2317.5 2502.5"/>
<path d="M2217.5 2342.5 L2237.5 2345.0 L2235.0 2375.0 L2215.0 2370.0 L2217.5 2342.5"/>
<path d="M2275.0 2375.0 L2295.0 2377.5 L2290.0 2407.5 L2267.5 2406.0 L2275.0 2375.0"/>
<path d="M2427.5 2282.5 L2447.5 2272.5 L2445.0 2312.5 L2430.0 2315.0 L2427.5 2282.5"/>
<path d="M2060.0 2500.0 C2068.3 2520.0 2077.7 2539.6 2085.0 2560.0 C2092.7 2581.3 2100.3 2602.8 2105.0 2625.0 C2110.3 2649.7 2112.7 2674.9 2115.0 2700.0 C2117.3 2724.9 2118.6 2750.0 2119.0 2775.0 C2119.4 2796.7 2120.0 2818.5 2117.5 2840.0 C2115.3 2858.7 2111.4 2877.3 2105.0 2895.0 C2100.4 2907.6 2091.6 2918.3 2085.0 2930.0 C2076.6 2945.0 2069.9 2961.0 2060.0 2975.0 C2049.8 2989.5 2036.7 3001.7 2025.0 3015.0 C2013.3 3028.3 2000.8 3040.9 1990.0 3055.0 C1979.0 3069.3 1971.0 3085.7 1960.0 3100.0 C1954.3 3107.5 1946.7 3113.3 1940.0 3120.0"/>
<path d="M2598.0 2530.0 C2590.3 2536.7 2581.4 2542.1 2575.0 2550.0 C2556.9 2572.3 2541.7 2596.7 2525.0 2620.0 C2508.3 2643.3 2492.2 2667.1 2475.0 2690.0 C2467.2 2700.4 2458.0 2709.8 2450.0 2720.0 C2439.7 2733.1 2429.2 2746.1 2420.0 2760.0 C2409.2 2776.2 2400.4 2793.6 2390.0 2810.0 C2377.1 2830.3 2363.7 2850.2 2350.0 2870.0 C2333.7 2893.6 2317.9 2917.6 2300.0 2940.0 C2284.5 2959.3 2267.5 2977.5 2250.0 2995.0 C2237.5 3007.5 2223.4 3018.4 2210.0 3030.0 C2198.4 3040.1 2186.3 3049.5 2175.0 3060.0 C2162.9 3071.2 2150.8 3082.5 2140.0 3095.0 C2134.1 3101.8 2131.4 3111.1 2125.0 3117.5 C2117.8 3124.7 2108.4 3129.3 2100.0 3135.0 C2090.1 3141.8 2080.1 3148.5 2070.0 3155.0 C2061.8 3160.2 2054.3 3167.2 2045.0 3170.0 C2037.0 3172.4 2028.3 3171.1 2020.0 3170.0 C2015.6 3169.4 2011.7 3166.7 2007.5 3165.0"/>
<path d="M3126.0 1790.0 C3121.7 1793.3 3117.3 1796.6 3113.0 1800.0 C3094.6 1814.9 3076.3 1829.9 3058.0 1845.0 C3037.9 1861.6 3017.5 1877.7 2998.0 1895.0 C2972.4 1917.7 2947.7 1941.3 2923.0 1965.0 C2904.3 1983.0 2885.9 2001.2 2868.0 2020.0 C2850.9 2037.9 2833.6 2055.7 2818.0 2075.0 C2805.2 2090.8 2795.4 2108.9 2783.0 2125.0 C2770.4 2141.4 2755.8 2156.2 2743.0 2172.5 C2725.7 2194.6 2710.2 2217.9 2693.0 2240.0 C2678.5 2258.7 2663.1 2276.7 2648.0 2295.0 C2631.4 2315.1 2614.9 2335.2 2598.0 2355.0 C2581.5 2374.3 2564.7 2393.3 2548.0 2412.5"/>
<path d="M3298.0 1800.0 C3273.0 1816.7 3247.2 1832.2 3223.0 1850.0 C3197.2 1868.9 3173.0 1890.0 3148.0 1910.0 C3123.0 1930.0 3097.2 1949.0 3073.0 1970.0 C3047.2 1992.4 3023.0 2016.7 2998.0 2040.0 C2973.0 2063.3 2947.2 2085.8 2923.0 2110.0 C2897.2 2135.8 2872.5 2162.8 2848.0 2190.0 C2827.4 2212.8 2808.3 2236.9 2788.0 2260.0 C2771.6 2278.6 2753.3 2295.5 2738.0 2315.0 C2723.2 2333.9 2711.0 2354.8 2698.0 2375.0 C2681.0 2401.5 2665.0 2428.6 2648.0 2455.0 C2631.7 2480.2 2614.7 2505.0 2598.0 2530.0"/>
<path d="M2570.5 2057.5 C2588.0 2068.3 2605.5 2079.2 2623.0 2090.0 C2644.7 2103.4 2666.8 2115.9 2688.0 2130.0 C2706.9 2142.6 2724.7 2156.7 2743.0 2170.0"/>
<path d="M2360.5 1007.5 L2533.0 890.0"/>
<path d="M2368.0 1020.0 L2553.0 896.0"/>
<path d="M2398.0 1045.0 L2593.0 899.0"/>
<path d="M2209.0 946.0 L2243.0 920.0 L2279.0 946.0"/>
<path d="M2167.0 910.0 L2220.5 954.0"/>
<path d="M2142.0 920.0 C2154.0 930.0 2166.9 939.0 2178.0 950.0 C2191.5 963.3 2203.0 978.3 2215.5 992.5"/>
<path d="M2266.0 1359.0 C2260.0 1368.0 2255.6 1378.3 2248.0 1386.0 C2235.4 1398.8 2219.5 1408.1 2206.0 1420.0 C2191.5 1432.8 2178.1 1446.8 2164.0 1460.0 C2153.5 1469.8 2143.3 1480.1 2132.0 1489.0 C2115.3 1502.1 2097.8 1514.3 2080.0 1526.0 C2061.8 1538.0 2041.7 1547.2 2024.0 1560.0 C2006.6 1572.6 1992.5 1589.5 1975.0 1602.0 C1955.4 1616.0 1933.5 1626.4 1913.0 1639.0 C1891.8 1652.0 1872.0 1667.3 1850.0 1679.0 C1830.5 1689.4 1809.0 1695.5 1789.0 1705.0 C1763.9 1716.9 1739.7 1730.3 1715.0 1743.0"/>
<path d="M2283.0 1388.0 C2264.3 1412.7 2247.5 1438.9 2227.0 1462.0 C2207.7 1483.7 2185.8 1502.9 2164.0 1522.0 C2143.8 1539.6 2122.8 1556.4 2101.0 1572.0 C2080.8 1586.5 2059.5 1599.5 2038.0 1612.0 C2017.5 1623.9 1996.2 1634.5 1975.0 1645.0 C1961.9 1651.5 1948.3 1656.9 1935.0 1663.0 C1914.3 1672.5 1893.6 1682.2 1873.0 1692.0 C1855.6 1700.2 1838.0 1708.0 1821.0 1717.0 C1806.6 1724.7 1792.3 1732.6 1779.0 1742.0 C1772.5 1746.6 1766.5 1752.4 1762.0 1759.0 C1760.5 1761.2 1759.9 1765.3 1762.0 1767.0 C1766.6 1770.8 1773.0 1772.3 1779.0 1773.0 C1792.9 1774.6 1807.0 1774.0 1821.0 1774.0 C1836.3 1774.0 1851.7 1773.3 1867.0 1773.0"/>
</g>
<g stroke-width="5.28">
<path d="M2863.0 950.0 L2863.0 983.4"/>
</g>
<g stroke-width="2.97">
<path d="M3146.9 1254.6 L3155.2 1280.0 L3133.6 1264.3 L3160.3 1264.3 L3138.7 1280.0 L3146.9 1254.6"/>
</g>
<g stroke-width="2.64">
<path d="M2577.3 807.2 Q2578.7 800.9 2579.1 794.4 M2589.7 807.5 Q2590.7 787.4 2595.3 767.7 M2604.8 808.0 Q2607.4 772.6 2614.6 738.0 M2618.6 786.8 Q2624.1 754.7 2627.7 722.3 M2637.7 757.0 Q2644.7 729.3 2645.7 700.7 M2652.8 738.8 Q2657.2 710.9 2660.6 682.9 M2667.0 722.5 Q2670.0 696.2 2674.3 670.1 M2684.7 702.0 Q2690.9 678.4 2691.5 654.0 M2697.6 690.5 Q2698.4 665.8 2704.5 641.9 M2714.3 676.3 Q2719.5 653.7 2720.8 630.4 M2727.6 665.0 Q2729.5 643.2 2733.7 621.8 M2742.8 651.0 Q2743.9 631.3 2748.3 612.0 M2759.5 634.9 Q2759.7 629.9 2760.9 625.1 M1024.6 1617.6 Q1026.8 1613.9 1028.9 1610.1 M1027.9 1635.0 Q1035.5 1621.5 1043.4 1608.1 M1030.2 1647.2 Q1040.9 1626.4 1053.5 1606.8 M1039.2 1654.0 Q1055.1 1630.4 1067.6 1604.8 M1052.3 1651.7 Q1067.5 1628.1 1080.3 1603.1 M1064.1 1649.6 Q1076.5 1624.7 1091.9 1601.5 M1077.6 1647.3 Q1091.8 1623.8 1105.1 1599.7 M1088.6 1645.4 Q1102.3 1621.9 1115.8 1598.3 M1101.4 1643.2 Q1117.0 1621.1 1128.3 1596.6 M1114.8 1640.8 Q1127.1 1622.0 1137.3 1602.0 M1129.5 1638.3 Q1136.2 1625.3 1144.1 1613.0 M1141.4 1636.2 Q1146.3 1629.6 1149.6 1622.0 M1153.8 1634.1 Q1154.5 1632.6 1155.4 1631.3 M1231.7 1579.2 Q1233.9 1575.6 1235.9 1571.9 M1239.1 1588.5 Q1247.2 1577.1 1253.0 1564.3 M1244.6 1595.4 Q1254.3 1576.6 1265.7 1558.7 M1251.9 1604.7 Q1268.6 1578.7 1282.8 1551.2 M1267.6 1594.9 Q1282.5 1570.4 1296.3 1545.2 M1286.1 1586.6 Q1300.9 1562.1 1314.7 1537.1 M1302.2 1579.4 Q1308.6 1567.9 1315.3 1556.6 M1383.5 1506.7 Q1386.5 1502.4 1389.6 1498.1 M1388.9 1515.3 Q1396.2 1502.9 1405.3 1491.9 M1393.4 1522.3 Q1404.2 1503.3 1418.4 1486.6 M1398.9 1531.1 Q1414.0 1503.8 1434.5 1480.2 M1409.0 1529.5 Q1429.7 1503.6 1447.0 1475.3 M1428.4 1520.6 Q1444.4 1492.6 1465.2 1468.0 M1444.4 1513.2 Q1460.7 1486.5 1480.2 1462.0 M1462.3 1504.9 Q1479.0 1479.7 1497.0 1455.3 M1477.7 1497.8 Q1496.7 1475.2 1511.5 1449.6 M1491.3 1491.5 Q1505.4 1466.3 1524.3 1444.5 M1508.1 1483.8 Q1523.7 1460.8 1540.0 1438.2 M1525.7 1475.6 Q1539.2 1456.9 1552.2 1437.8 M1538.8 1469.6 Q1546.4 1460.6 1552.2 1450.4 M1800.8 1315.8 Q1803.0 1309.7 1806.4 1304.3 M1808.8 1327.8 Q1814.8 1311.5 1824.0 1296.7 M1815.3 1337.6 Q1825.2 1313.3 1838.3 1290.6 M1828.8 1339.4 Q1840.3 1310.0 1856.4 1282.8 M1846.2 1331.5 Q1858.6 1303.2 1873.2 1275.9 M1866.6 1322.1 Q1876.8 1293.8 1892.8 1268.4 M1884.7 1313.8 Q1894.3 1286.3 1910.1 1261.8 M1898.1 1307.6 Q1908.4 1281.2 1922.9 1256.9 M1916.4 1298.6 Q1925.8 1273.3 1939.9 1250.4 M1934.9 1289.3 Q1945.2 1266.2 1957.1 1243.8 M1953.0 1280.2 Q1961.1 1257.5 1974.1 1237.2 M1972.6 1270.5 Q1984.3 1251.0 1992.4 1229.8 M1991.3 1261.1 Q2001.2 1242.2 2010.0 1222.8 M2007.2 1253.9 Q2014.7 1234.5 2025.4 1216.6 M2022.9 1247.6 Q2030.9 1228.4 2041.1 1210.3 M2042.1 1239.9 Q2050.7 1220.6 2060.7 1202.0 M2058.9 1233.2 Q2067.8 1213.4 2078.0 1194.2 M2077.0 1226.0 Q2085.0 1205.0 2096.6 1185.8 M2096.1 1218.4 Q2107.9 1198.5 2116.3 1176.9 M2111.8 1212.1 Q2124.8 1191.8 2132.8 1169.0 M2127.9 1205.6 Q2138.7 1183.1 2149.8 1160.8 M2145.5 1198.6 Q2156.8 1175.2 2168.3 1152.0 M2162.9 1191.6 Q2172.3 1166.3 2186.5 1143.2 M2176.8 1186.1 Q2186.6 1159.9 2201.2 1136.1 M2199.1 1175.5 Q2210.9 1148.9 2224.7 1123.1 M2216.7 1166.8 Q2228.2 1139.2 2242.8 1113.2 M2235.3 1157.4 Q2250.9 1131.1 2262.1 1102.6 M2253.2 1148.4 Q2264.1 1120.4 2279.5 1094.5 M2269.5 1139.7 Q2279.2 1112.3 2294.8 1087.8 M2288.1 1129.8 Q2302.9 1106.3 2312.3 1080.1 M2305.5 1119.8 Q2315.0 1100.5 2324.3 1081.2 M2329.1 1104.0 Q2331.5 1097.7 2335.0 1091.9 M2372.5 1023.7 Q2374.2 1019.5 2375.2 1015.1 M2379.8 1029.8 Q2384.4 1018.8 2387.2 1007.2 M2389.8 1038.2 Q2397.8 1017.6 2403.4 996.3 M2400.8 1042.9 Q2408.2 1013.6 2419.4 985.5 M2414.9 1032.4 Q2424.1 1004.4 2433.1 976.4 M2428.7 1022.0 Q2436.6 994.4 2446.5 967.4 M2441.4 1012.5 Q2447.1 984.9 2458.7 959.2 M2456.5 1001.2 Q2461.9 974.4 2473.3 949.4 M2470.2 991.0 Q2477.0 965.3 2486.6 940.5 M2487.4 978.1 Q2493.9 953.2 2503.2 929.4 M2501.0 967.9 Q2509.7 944.6 2516.3 920.6 M2516.6 956.2 Q2526.6 934.1 2531.5 910.4 M2529.2 946.7 Q2536.2 924.4 2543.7 902.2 M2543.4 936.2 Q2551.9 916.9 2556.3 896.3 M2560.5 923.3 Q2566.3 910.8 2569.0 897.2 M2575.9 911.8 Q2578.9 905.2 2580.4 898.1 M2589.9 901.3 Q2590.3 900.1 2590.7 898.8"/>
</g><g stroke-width="3.30">
<ellipse cx="3242.5" cy="810.0" rx="3.5" ry="22.5" transform="rotate(8.0 3242.5 810.0)"/>
<ellipse cx="3259.0" cy="860.0" rx="4.5" ry="25.0" transform="rotate(10.0 3259.0 860.0)"/>
<ellipse cx="3268.5" cy="1006.0" rx="4.5" ry="21.0" transform="rotate(10.0 3268.5 1006.0)"/>
<ellipse cx="1575.6" cy="1443.4" rx="3.3" ry="9.3" transform="rotate(10.0 1575.6 1443.4)"/>
<ellipse cx="1600.6" cy="1480.1" rx="5.3" ry="23.4" transform="rotate(8.0 1600.6 1480.1)"/>
<ellipse cx="1634.0" cy="1511.8" rx="4.0" ry="6.7" transform="rotate(0.0 1634.0 1511.8)"/>
<ellipse cx="1690.7" cy="1571.8" rx="4.0" ry="13.3" transform="rotate(8.0 1690.7 1571.8)"/>
<ellipse cx="1712.4" cy="1601.9" rx="4.0" ry="14.0" transform="rotate(8.0 1712.4 1601.9)"/>
<ellipse cx="1734.1" cy="1630.2" rx="6.7" ry="15.0" transform="rotate(8.0 1734.1 1630.2)"/>
<ellipse cx="2515.1" cy="1213.6" rx="15.0" ry="21.7" transform="rotate(0.0 2515.1 1213.6)"/>
<ellipse cx="2638.8" cy="1218.6" rx="10.0" ry="36.7" transform="rotate(2.0 2638.8 1218.6)"/>
<ellipse cx="2696.2" cy="1183.6" rx="10.7" ry="35.0" transform="rotate(2.0 2696.2 1183.6)"/>
<ellipse cx="2755.6" cy="1135.2" rx="11.0" ry="36.0" transform="rotate(2.0 2755.6 1135.2)"/>
<ellipse cx="3309.7" cy="1026.7" rx="3.0" ry="26.7" transform="rotate(8.0 3309.7 1026.7)"/>
<ellipse cx="3327.4" cy="1063.4" rx="3.0" ry="28.4" transform="rotate(7.0 3327.4 1063.4)"/>
<ellipse cx="3344.7" cy="1118.5" rx="3.3" ry="28.4" transform="rotate(7.0 3344.7 1118.5)"/>
</g>
<g stroke-width="3.70">
<path d="M1978.3 811.0 Q1980.7 811.5 1982.9 812.6 M1172.7 1368.3 Q1174.6 1370.1 1177.0 1371.1 M2643.0 851.9 Q2646.1 853.6 2648.6 856.1 M1082.1 1470.2 Q1085.2 1471.5 1087.5 1473.9 M2098.2 778.6 Q2099.0 781.4 2099.6 784.3 M1944.0 948.4 Q1943.2 948.3 1942.5 948.6 M1926.4 853.7 Q1926.0 855.0 1925.0 855.8 M2469.1 484.6 Q2468.2 488.4 2468.4 492.2 M2433.5 535.5 Q2437.0 535.2 2440.3 536.6 M2433.9 589.2 Q2435.3 589.6 2436.7 589.6 M2046.4 775.5 Q2045.9 777.9 2044.5 779.9 M1125.3 1388.9 Q1121.2 1388.2 1117.1 1389.0 M2146.5 854.3 Q2148.9 855.9 2150.1 858.5 M2260.5 806.2 Q2263.8 808.2 2265.6 811.5 M1099.2 1446.3 Q1098.9 1448.8 1098.8 1451.2 M2529.3 430.9 Q2530.0 431.6 2530.3 432.5 M1996.0 837.8 Q1995.5 838.8 1995.7 839.9 M2317.3 677.1 Q2319.1 679.3 2319.3 682.1 M1057.1 1414.1 Q1054.9 1414.1 1052.9 1414.8 M1699.8 961.0 Q1697.9 964.8 1694.2 966.8 M2133.8 742.1 Q2134.2 744.8 2136.0 746.9 M1085.4 1352.7 Q1084.5 1356.8 1086.3 1360.6 M1402.3 1160.8 Q1402.7 1162.0 1402.3 1163.1 M2364.9 586.9 Q2364.3 590.0 2362.2 592.4 M1152.6 1331.5 Q1149.6 1333.3 1146.1 1333.6 M2274.4 873.4 Q2277.0 875.9 2278.2 879.3 M2170.7 827.8 Q2171.0 831.6 2172.1 835.3 M2156.6 775.0 Q2156.8 777.4 2155.6 779.4 M1080.3 1390.9 Q1079.8 1392.3 1079.6 1393.7 M1696.4 987.8 Q1696.6 990.0 1697.6 992.0 M1883.9 851.7 Q1883.3 852.2 1882.6 852.3 M2170.3 698.7 Q2169.3 701.2 2168.0 703.6 M2435.8 826.3 Q2436.4 826.7 2436.9 827.3 M2525.8 492.8 Q2522.3 494.6 2520.5 498.2 M2623.3 836.3 Q2621.0 839.5 2618.0 842.1 M2187.6 886.5 Q2190.9 887.8 2194.4 888.4 M1795.1 956.6 Q1796.1 960.5 1796.7 964.4 M1519.7 1075.9 Q1522.1 1079.5 1526.2 1080.9 M2345.0 660.5 Q2345.8 661.5 2347.0 662.1 M1752.9 1007.7 Q1752.6 1009.9 1751.4 1011.7 M1444.3 1128.0 Q1445.6 1129.3 1446.6 1130.8 M2332.4 610.8 Q2333.1 611.7 2334.2 612.3 M2047.2 807.9 Q2048.2 807.8 2049.0 808.4 M2132.4 882.2 Q2133.8 884.0 2135.2 885.8 M1956.0 848.0 Q1951.8 847.2 1947.6 848.2 M2394.3 835.9 Q2393.4 835.8 2392.6 836.3 M2496.9 492.7 Q2494.3 495.7 2492.1 499.1 M2600.4 860.3 Q2598.1 861.2 2595.8 861.7 M1990.5 862.5 Q1991.0 863.9 1991.2 865.4 M2336.4 880.2 Q2338.1 881.5 2339.0 883.3 M2091.7 804.9 Q2094.0 806.1 2096.7 806.2 M1889.4 903.6 Q1892.5 903.9 1894.7 906.1 M2555.2 868.5 Q2555.5 868.9 2556.0 869.2 M2489.6 514.2 Q2489.9 515.3 2489.5 516.4 M2064.5 859.5 Q2062.5 861.7 2061.1 864.3 M1191.5 1299.8 Q1193.2 1300.3 1194.9 1300.2 M2343.6 804.1 Q2342.1 805.2 2341.6 807.0 M1275.1 1259.1 Q1271.4 1260.5 1267.4 1260.4 M1178.7 1385.6 Q1175.3 1386.9 1171.7 1387.7 M1913.2 916.3 Q1917.3 916.4 1920.9 918.4 M2268.1 671.7 Q2269.1 674.2 2269.2 676.8 M2643.5 832.3 Q2647.2 832.3 2650.0 834.7 M1828.1 1008.8 Q1825.9 1009.4 1823.7 1009.8 M1834.9 957.7 Q1833.9 961.0 1832.9 964.4 M1189.2 1317.9 Q1189.8 1319.6 1191.4 1320.8 M2488.5 862.9 Q2484.4 862.6 2480.9 864.6 M2215.0 886.3 Q2211.7 887.8 2209.1 890.2 M2398.6 595.1 Q2401.9 597.5 2405.8 598.8 M1904.9 858.1 Q1901.5 860.6 1898.1 863.2 M2557.5 431.1 Q2557.6 434.3 2557.3 437.6 M2315.0 698.9 Q2317.9 701.2 2321.4 702.5 M2082.0 835.6 Q2084.3 838.3 2087.7 839.6 M1724.6 997.5 Q1724.6 1000.3 1723.2 1002.7 M2574.0 451.6 Q2574.6 452.8 2574.6 454.0 M2521.6 835.5 Q2519.5 837.9 2517.0 839.8 M1795.9 1022.7 Q1796.5 1022.8 1797.0 1023.0 M2316.4 735.4 Q2314.4 738.0 2313.8 741.2 M1200.3 1359.7 Q1202.4 1360.6 1204.5 1361.5 M1248.8 1265.8 Q1249.8 1267.4 1251.6 1268.1 M1818.2 982.9 Q1814.4 983.8 1810.5 983.5 M1143.7 1407.6 Q1140.1 1408.9 1136.3 1407.9 M2263.0 790.6 Q2263.5 791.7 2263.6 792.8 M2114.7 900.1 Q2118.8 901.0 2123.1 900.9 M1716.8 1024.1 Q1717.8 1027.0 1720.0 1029.2 M2021.4 852.6 Q2023.6 853.3 2025.2 855.1 M1387.0 1146.9 Q1389.6 1150.1 1393.0 1152.2 M1823.5 949.2 Q1821.0 951.6 1817.8 953.4 M1903.5 937.8 Q1904.8 940.1 1906.1 942.3 M2129.3 802.3 Q2130.9 805.2 2131.4 808.5 M2112.3 754.3 Q2110.7 757.1 2111.2 760.2 M1788.0 924.4 Q1785.0 925.7 1781.8 925.8 M1239.3 1318.8 Q1237.7 1319.8 1236.2 1320.8 M2141.7 700.9 Q2141.3 701.4 2141.0 702.0 M2595.0 834.9 Q2592.3 835.7 2590.8 838.1 M1043.5 1460.8 Q1045.6 1462.5 1047.9 1464.2 M2543.8 474.0 Q2543.1 477.8 2541.0 481.0 M1885.2 943.7 Q1884.4 945.5 1883.6 947.3 M2349.1 676.6 Q2351.0 679.5 2350.8 683.1 M2075.4 747.8 Q2077.9 749.6 2079.2 752.3 M2116.5 785.8 Q2116.2 789.3 2116.4 792.9 M2162.0 798.4 Q2163.2 799.8 2164.8 800.8 M2059.9 749.9 Q2058.9 752.0 2057.9 754.2 M1782.7 1013.1 Q1782.5 1015.7 1781.1 1017.9 M2486.4 467.7 Q2485.7 468.8 2484.6 469.6 M1966.5 870.7 Q1968.5 873.2 1969.9 876.0 M1241.5 1228.3 Q1239.4 1229.2 1238.2 1231.1 M2264.0 835.3 Q2261.4 836.1 2258.8 836.5 M2181.5 786.0 Q2180.2 788.0 2178.8 790.0 M2366.4 625.8 Q2368.5 626.0 2370.7 626.6 M1854.2 945.5 Q1852.4 949.1 1852.1 953.0 M1856.0 967.0 Q1856.6 967.4 1857.0 967.9 M2291.2 813.8 Q2294.2 816.7 2298.2 818.1 M2562.7 849.4 Q2564.5 850.9 2565.2 853.2 M2194.4 671.8 Q2194.3 676.0 2194.0 680.2 M1090.9 1416.0 Q1095.1 1416.9 1098.6 1419.4 M2381.5 823.6 Q2380.8 824.5 2380.2 825.6 M1738.6 934.8 Q1740.1 937.7 1741.8 940.5 M2206.0 812.0 Q2203.5 813.4 2202.2 815.9 M1930.9 877.0 Q1931.5 879.9 1932.4 882.7 M2074.6 810.2 Q2074.2 812.4 2072.7 814.1 M1201.2 1343.5 Q1201.9 1343.5 1202.6 1343.5 M2098.7 899.4 Q2099.4 902.4 2100.5 905.3 M1957.7 896.0 Q1957.0 897.2 1956.0 898.2 M1104.9 1373.2 Q1107.7 1376.3 1110.7 1379.3 M2389.6 630.2 Q2390.8 632.0 2391.5 634.0 M1167.9 1422.7 Q1167.6 1423.3 1167.2 1423.9 M1340.9 1179.1 Q1342.1 1180.0 1343.6 1180.2 M2310.4 775.4 Q2307.6 777.7 2304.8 780.0 M2318.5 631.6 Q2317.8 632.7 2317.0 633.6 M2293.7 777.4 Q2291.5 778.2 2289.3 777.6 M1063.1 1476.1 Q1062.4 1479.0 1061.0 1481.7 M1812.6 931.7 Q1810.3 931.5 1808.2 932.4 M1154.8 1348.5 Q1153.0 1348.5 1151.2 1348.7 M1180.5 1270.2 Q1179.5 1274.4 1176.6 1277.5 M1388.6 1170.5 Q1385.3 1173.4 1383.6 1177.3 M1999.6 808.3 Q2002.1 808.9 2004.2 810.4 M2090.1 865.7 Q2087.9 865.3 2085.8 866.2 M2471.6 801.9 Q2474.0 804.9 2477.5 806.6 M2440.0 568.6 Q2441.2 570.0 2442.5 571.4 M1563.0 1047.9 Q1559.6 1049.8 1556.8 1052.4 M2240.8 850.1 Q2241.7 852.2 2242.6 854.3 M2336.4 854.7 Q2340.0 855.9 2343.7 855.5 M1133.0 1377.6 Q1134.4 1380.7 1136.6 1383.3 M2312.5 865.0 Q2313.1 865.6 2313.8 865.8 M2237.7 796.0 Q2235.8 797.7 2233.5 798.7 M1130.0 1312.8 Q1131.8 1313.8 1132.9 1315.5 M2615.7 872.1 Q2617.2 875.9 2620.0 878.8 M2131.1 721.0 Q2132.2 724.8 2132.2 728.9 M2379.2 647.5 Q2380.2 648.6 2381.0 649.7 M2296.0 736.1 Q2296.9 736.4 2297.8 736.3 M2160.1 875.6 Q2161.1 877.4 2162.0 879.3 M2305.3 596.4 Q2302.3 598.3 2298.7 598.9 M1941.2 906.4 Q1943.1 906.7 1944.9 906.5 M2207.9 827.6 Q2211.0 829.7 2214.6 831.0 M1893.9 926.8 Q1892.1 928.7 1890.0 930.1 M2342.4 624.4 Q2342.4 628.5 2345.0 631.8 M1885.6 879.2 Q1883.3 878.9 1881.2 880.1 M1243.6 1301.5 Q1242.8 1302.3 1242.3 1303.3 M1936.7 834.0 Q1935.8 837.7 1935.4 841.6 M1050.2 1435.3 Q1049.9 1438.0 1048.2 1440.1 M2298.3 760.7 Q2299.8 762.9 2301.8 764.6 M2326.3 764.1 Q2326.0 764.6 2325.5 765.2 M2200.2 865.7 Q2197.5 865.9 2195.3 867.6 M2195.0 771.2 Q2198.0 773.2 2201.5 772.8 M2248.0 679.8 Q2251.3 682.3 2255.4 683.3 M2562.6 819.6 Q2564.5 820.9 2566.7 821.0 M2024.3 822.3 Q2027.7 823.6 2031.3 822.9 M2281.5 698.8 Q2281.1 702.0 2280.7 705.3 M2226.1 854.9 Q2224.0 855.6 2222.7 857.4 M1166.3 1450.3 Q1162.5 1451.3 1158.6 1450.5 M1681.8 1025.9 Q1678.9 1027.9 1675.3 1027.6 M1916.4 898.2 Q1916.2 898.9 1916.2 899.7 M2412.9 808.7 Q2413.5 811.1 2412.9 813.4 M2291.6 833.9 Q2288.0 834.7 2284.4 834.2 M1127.6 1483.9 Q1124.7 1484.5 1121.8 1485.4 M2047.2 842.5 Q2046.3 843.3 2045.4 843.8 M2341.4 586.8 Q2339.7 589.4 2337.8 591.8 M2149.2 727.0 Q2149.1 729.0 2150.3 730.6 M2518.7 863.6 Q2515.6 866.5 2514.4 870.5 M1321.5 1215.9 Q1323.4 1217.6 1325.9 1218.0 M2431.0 861.3 Q2428.5 863.4 2426.0 865.3 M1673.9 993.3 Q1672.3 994.9 1671.2 996.9 M1279.2 1227.5 Q1282.3 1228.8 1285.4 1230.0 M1838.9 912.8 Q1840.2 915.2 1841.3 917.7 M1949.9 918.0 Q1949.0 921.8 1947.8 925.6 M1109.7 1356.4 Q1110.7 1359.8 1112.4 1362.8 M2509.9 853.8 Q2506.1 854.1 2502.4 854.9 M2530.9 452.2 Q2532.0 452.5 2532.7 453.3 M2136.8 832.1 Q2140.1 834.1 2142.5 837.1 M1150.1 1308.8 Q1147.3 1310.8 1146.2 1314.1 M2475.5 839.4 Q2476.6 841.0 2478.0 842.1 M2295.0 627.7 Q2295.6 628.1 2295.8 628.8 M2535.3 857.5 Q2534.2 859.9 2533.8 862.4 M2438.5 845.6 Q2439.7 845.6 2440.9 845.9 M1153.4 1475.7 Q1152.2 1477.2 1151.1 1478.9 M2422.1 550.8 Q2418.8 552.6 2415.7 554.8 M1613.8 1007.3 Q1613.0 1010.3 1613.0 1013.4 M2580.6 846.4 Q2581.6 848.2 2582.1 850.2 M2457.1 567.5 Q2459.0 568.0 2460.9 567.8 M2278.1 642.8 Q2275.0 643.6 2271.8 643.2 M1901.5 960.3 Q1902.7 963.7 1902.2 967.4 M2104.9 840.8 Q2105.7 841.2 2106.5 841.6 M2154.2 756.1 Q2151.9 756.9 2149.5 757.5 M2003.3 3082.4 Q2002.6 3085.6 2001.8 3088.7 M2181.9 2881.5 Q2178.4 2882.4 2175.6 2884.5 M1474.8 1880.4 Q1473.5 1881.0 1472.0 1881.0 M1280.6 1741.7 Q1282.2 1743.9 1283.5 1746.3 M1935.7 2172.7 Q1937.7 2172.2 1939.5 2173.0 M3020.2 1907.6 Q3019.1 1910.0 3019.5 1912.7 M2180.4 2718.9 Q2180.8 2723.0 2180.9 2727.1 M3543.1 1543.1 Q3541.1 1543.5 3539.3 1544.1 M1228.9 1620.3 Q1229.1 1622.8 1228.4 1625.2 M1888.0 2171.9 Q1887.6 2174.7 1887.4 2177.4 M2953.4 2014.9 Q2950.7 2015.3 2948.8 2017.1 M3605.3 1440.5 Q3606.1 1442.8 3605.7 1445.1 M3633.1 1378.1 Q3635.3 1379.6 3637.8 1380.6 M2534.2 2504.2 Q2532.7 2507.0 2531.6 2509.9 M2616.2 2398.6 Q2614.9 2399.8 2613.3 2400.5 M3217.7 1728.1 Q3218.1 1728.4 3218.5 1728.7 M2437.8 2600.3 Q2435.7 2601.9 2433.1 2602.2 M2233.0 2820.8 Q2231.5 2824.0 2228.7 2826.1 M3776.5 892.8 Q3775.4 894.8 3773.6 896.2 M2029.4 2302.0 Q2030.2 2306.3 2028.4 2310.3 M2975.6 1998.4 Q2973.9 2000.9 2972.1 2003.3 M2567.4 2503.5 Q2568.6 2505.3 2570.0 2506.9 M2491.4 2551.8 Q2490.9 2555.6 2488.7 2558.7 M2631.7 2405.5 Q2632.7 2408.8 2635.0 2411.3 M2263.3 2924.3 Q2262.3 2928.2 2263.8 2931.9 M3894.5 1056.0 Q3897.8 1056.9 3901.0 1057.9 M2434.5 2634.7 Q2436.1 2635.8 2438.0 2636.1 M2195.3 2864.2 Q2196.3 2868.3 2196.7 2872.5 M1231.8 1665.2 Q1228.0 1666.5 1224.6 1668.6 M2471.0 2590.9 Q2473.4 2592.1 2475.1 2594.1 M2153.0 2903.3 Q2152.9 2903.8 2153.0 2904.4 M1610.8 1980.3 Q1608.3 1983.7 1604.2 1985.2 M3000.6 1933.0 Q3003.4 1934.1 3006.5 1933.7 M2274.2 2823.4 Q2273.1 2826.4 2270.9 2828.8 M3724.2 1324.1 Q3724.2 1326.1 3723.9 1328.2 M2165.7 2744.4 Q2162.1 2746.5 2160.2 2750.1 M1274.3 1632.6 Q1277.1 1636.0 1277.8 1640.3 M2309.5 2812.0 Q2307.7 2813.2 2305.7 2814.0 M2897.2 2034.6 Q2898.0 2036.7 2897.5 2038.8 M2364.3 2764.3 Q2362.8 2767.7 2362.2 2771.4 M3569.5 1491.8 Q3566.6 1493.4 3563.4 1494.2 M3227.7 1828.6 Q3228.7 1829.3 3229.9 1829.3 M2338.2 2857.4 Q2338.4 2860.9 2340.0 2864.0 M2208.5 2903.2 Q2210.1 2906.3 2212.8 2908.5 M1205.6 1617.3 Q1206.2 1620.4 1207.9 1623.0 M1989.9 2327.2 Q1985.9 2328.0 1982.0 2329.3 M1427.3 1846.9 Q1430.2 1846.8 1433.2 1847.3 M2161.0 3031.9 Q2163.8 3032.2 2166.7 3032.3 M2430.3 2668.2 Q2432.4 2669.3 2434.8 2669.1 M2018.9 3102.6 Q2020.1 3103.3 2021.5 3103.3 M2075.0 2315.3 Q2074.9 2315.9 2074.4 2316.3 M2228.3 2702.7 Q2228.5 2703.7 2228.6 2704.8 M2667.7 2365.7 Q2670.8 2367.9 2672.1 2371.5 M3721.4 1268.0 Q3721.3 1269.3 3720.8 1270.6 M2320.3 2612.5 Q2321.5 2616.8 2325.0 2619.3 M2619.2 2430.6 Q2621.0 2432.6 2623.6 2433.6 M1991.1 3118.6 Q1991.4 3121.3 1992.8 3123.7 M2417.8 2718.6 Q2418.2 2720.6 2417.3 2722.5 M2812.5 2168.0 Q2811.0 2169.5 2809.8 2171.1 M3027.7 1922.1 Q3029.0 1923.9 3030.5 1925.4 M3376.0 1678.7 Q3375.4 1678.7 3374.9 1679.0 M3281.1 1741.3 Q3282.3 1743.8 3284.8 1745.0 M3106.9 1883.3 Q3109.3 1886.3 3111.9 1889.0 M2775.0 2247.7 Q2778.1 2250.0 2779.8 2253.5 M1374.4 1808.0 Q1374.6 1810.8 1374.5 1813.5 M3283.8 1691.6 Q3285.2 1693.2 3285.7 1695.4 M3692.1 838.5 Q3694.5 841.9 3698.4 843.0 M3790.5 1227.3 Q3793.0 1229.1 3795.7 1230.5 M2220.0 2865.1 Q2219.0 2867.9 2219.1 2871.0 M2037.4 2407.2 Q2038.4 2409.6 2039.0 2412.1 M2066.2 3043.3 Q2064.7 3044.3 2063.0 3044.9 M1552.4 1972.6 Q1549.4 1973.7 1546.4 1975.2 M1957.9 2260.4 Q1954.7 2262.7 1952.8 2266.3 M2972.3 1950.2 Q2972.8 1953.9 2973.2 1957.5 M3736.7 826.8 Q3734.6 828.3 3732.0 828.8 M1388.5 1823.3 Q1385.0 1824.4 1382.6 1827.0 M2120.7 2680.4 Q2123.8 2681.2 2126.7 2682.6 M2457.2 2598.3 Q2456.1 2601.3 2457.0 2604.3 M3064.3 1946.9 Q3065.6 1950.1 3067.4 1953.1 M2144.1 2959.4 Q2145.5 2963.2 2147.7 2966.6 M1554.8 1857.7 Q1553.8 1858.5 1552.9 1859.4 M2046.6 2428.6 Q2044.8 2431.8 2043.0 2435.0 M2102.6 2548.2 Q2104.9 2550.0 2106.4 2552.5 M2174.4 2606.8 Q2174.9 2609.1 2174.0 2611.2 M3357.1 1673.1 Q3353.5 1675.3 3350.6 1678.4 M3883.2 1069.8 Q3884.8 1071.6 3885.3 1074.0 M1871.2 2173.5 Q1870.8 2173.9 1870.3 2174.0 M2108.6 3092.5 Q2108.6 3094.7 2107.6 3096.6 M3684.2 1312.8 Q3685.1 1315.9 3687.0 1318.5 M2123.3 2868.2 Q2123.3 2871.2 2121.5 2873.7 M3290.3 1765.1 Q3292.3 1765.5 3294.2 1766.0 M2102.0 2929.1 Q2101.2 2932.6 2099.0 2935.6 M1461.8 1853.6 Q1459.5 1855.7 1457.3 1857.9 M2150.0 2944.1 Q2150.2 2945.2 2149.9 2946.2 M3694.0 817.3 Q3692.4 818.4 3691.2 819.9 M1625.9 1919.8 Q1626.9 1921.4 1628.4 1922.4 M3435.2 1652.2 Q3438.1 1651.6 3441.0 1652.3 M2854.2 2095.5 Q2855.7 2097.3 2857.4 2098.8 M2068.7 2466.6 Q2072.7 2467.2 2076.1 2469.3 M2182.3 2801.8 Q2181.1 2803.9 2179.0 2805.3 M1621.5 1901.7 Q1623.9 1902.4 1625.6 1904.3 M3879.4 869.6 Q3878.9 870.7 3878.0 871.5 M3809.3 1186.9 Q3811.8 1190.5 3812.0 1194.9 M2355.5 2733.4 Q2358.2 2735.2 2360.9 2737.0 M1644.8 2027.6 Q1641.9 2030.7 1637.8 2031.5 M2243.9 2790.3 Q2244.6 2794.2 2243.0 2797.9 M1657.0 2000.4 Q1656.0 2001.2 1654.7 2001.4 M2259.6 2773.8 Q2256.5 2773.0 2253.5 2774.2 M1915.2 2238.9 Q1915.7 2241.6 1916.0 2244.4 M1248.7 1687.3 Q1247.6 1688.8 1247.2 1690.7 M2330.2 2663.1 Q2332.9 2664.3 2335.8 2663.7 M2077.5 3084.9 Q2079.5 3087.0 2081.0 3089.5 M2261.2 2668.9 Q2261.3 2672.0 2263.2 2674.4 M2006.7 2275.4 Q2008.6 2278.8 2012.1 2280.2 M2170.3 2482.1 Q2168.7 2483.9 2168.3 2486.3 M3625.9 1444.2 Q3627.2 1446.8 3629.4 1448.7 M2132.6 2832.7 Q2135.5 2833.5 2137.6 2835.7 M1585.1 1879.0 Q1586.9 1879.8 1588.5 1880.8 M2149.5 2693.3 Q2153.4 2693.6 2157.2 2693.5 M3874.8 931.6 Q3874.1 933.4 3872.9 934.9 M2347.2 2753.3 Q2344.8 2756.5 2344.7 2760.5 M1912.8 2222.1 Q1910.3 2225.5 1910.5 2229.7 M3242.9 1719.4 Q3244.5 1721.4 3247.0 1722.1 M3900.3 1007.5 Q3900.6 1008.2 3900.9 1008.8 M3129.2 1812.7 Q3129.1 1813.8 3128.7 1814.7 M2513.0 2509.7 Q2514.5 2511.5 2515.9 2513.3 M2181.9 2928.0 Q2182.3 2932.0 2182.7 2935.9 M2979.7 1933.9 Q2979.6 1935.0 2979.1 1936.0 M2445.7 2647.3 Q2445.9 2649.5 2444.8 2651.4 M2201.1 2799.3 Q2199.8 2799.9 2198.4 2799.7 M3842.5 937.5 Q3844.6 940.2 3846.4 943.2 M2447.7 2681.2 Q2446.9 2682.9 2445.5 2684.2 M2936.9 2067.1 Q2938.1 2067.9 2939.6 2067.9 M2151.3 3050.4 Q2152.0 3053.1 2153.8 3055.2 M3268.9 1768.5 Q3273.1 1769.2 3276.8 1771.3 M3739.8 1271.9 Q3739.5 1274.6 3741.1 1276.9 M2474.4 2532.1 Q2475.3 2536.1 2474.7 2540.1 M2548.2 2567.6 Q2548.7 2567.7 2549.3 2567.7 M3041.2 1908.5 Q3044.5 1911.2 3048.8 1911.5 M3429.2 1621.8 Q3431.5 1623.3 3433.6 1625.1 M2570.3 2533.4 Q2572.0 2534.5 2573.5 2535.9 M1687.1 1992.7 Q1688.5 1995.8 1689.6 1999.1 M1546.0 1838.6 Q1543.8 1840.3 1541.9 1842.2 M3168.5 1831.8 Q3165.7 1833.0 3163.0 1834.4 M3754.4 890.9 Q3753.0 892.9 3751.2 894.6 M2203.9 2835.7 Q2206.5 2835.8 2208.9 2836.9 M2457.7 2614.6 Q2459.4 2617.5 2459.7 2620.9 M3532.2 840.5 Q3530.8 841.8 3530.0 843.5 M2224.6 2629.9 Q2227.6 2630.0 2230.5 2630.6 M3013.5 1956.1 Q3014.0 1958.4 3014.0 1960.8 M2493.3 2629.9 Q2493.7 2633.3 2493.3 2636.7 M2161.1 2602.1 Q2159.2 2602.5 2157.4 2602.4 M1807.7 2049.8 Q1811.1 2049.7 1814.5 2050.5 M3617.2 1484.6 Q3614.2 1484.9 3612.0 1487.0 M2584.7 2465.5 Q2584.0 2467.8 2584.6 2470.1 M2321.9 2794.6 Q2325.9 2794.5 2330.0 2795.2 M2293.6 2832.2 Q2290.2 2831.7 2287.0 2833.2 M2189.6 2826.2 Q2187.2 2828.4 2185.8 2831.4 M1450.1 1782.6 Q1452.0 1783.6 1454.1 1783.8 M3373.1 1645.9 Q3375.6 1646.7 3377.4 1648.7 M2095.1 2358.8 Q2097.7 2359.8 2100.3 2360.9 M2111.5 3006.6 Q2110.0 3009.0 2108.9 3011.6 M1247.2 1661.3 Q1250.2 1662.1 1253.3 1662.3 M2297.3 2731.7 Q2300.9 2731.9 2303.8 2734.1 M2034.4 2340.8 Q2036.0 2344.8 2036.0 2349.0 M3525.1 1486.0 Q3524.4 1486.2 3523.9 1486.7 M2239.4 2929.2 Q2241.8 2932.6 2241.9 2936.7 M3236.4 1804.3 Q3237.7 1806.9 3238.8 1809.6 M1406.2 1798.4 Q1406.7 1800.5 1408.0 1802.3 M3106.9 1834.9 Q3107.4 1835.1 3107.8 1835.4 M2165.8 2554.6 Q2166.3 2554.9 2166.8 2555.0 M2113.7 2601.1 Q2112.8 2603.1 2111.4 2604.8 M1650.7 1972.7 Q1651.0 1976.7 1651.5 1980.7 M3845.7 899.8 Q3842.9 902.7 3839.3 904.4 M3206.9 1819.7 Q3206.9 1823.2 3208.9 1826.0 M2181.3 2664.1 Q2177.2 2663.6 2173.2 2664.5 M3557.1 1541.4 Q3560.0 1543.1 3563.4 1542.9 M1989.8 2306.3 Q1991.7 2309.8 1993.3 2313.5 M2136.2 2977.3 Q2139.8 2979.5 2143.8 2981.0 M3105.1 1924.4 Q3108.4 1925.4 3111.8 1926.1 M2378.9 2679.7 Q2375.2 2681.2 2371.9 2683.5 M2425.2 2570.8 Q2427.9 2572.8 2430.5 2574.9 M3728.9 802.1 Q3724.8 802.6 3721.0 804.4 M1425.4 1747.6 Q1424.5 1747.7 1423.7 1748.0 M3630.9 851.3 Q3631.4 853.6 3630.4 855.8 M2052.0 2304.6 Q2053.4 2307.7 2055.1 2310.5 M2137.3 2635.3 Q2140.8 2637.4 2143.1 2640.9 M3822.0 1122.3 Q3824.6 1124.7 3826.9 1127.3 M1471.3 1825.1 Q1471.0 1825.5 1470.7 1826.0 M1585.5 1987.5 Q1587.3 1987.9 1589.0 1988.8 M3496.2 1557.0 Q3494.4 1557.7 3492.6 1558.3 M2125.0 2533.2 Q2125.2 2535.4 2126.7 2537.1 M1530.0 1869.7 Q1532.7 1872.0 1535.7 1873.8 M3322.3 1676.5 Q3319.7 1678.7 3317.2 1681.0 M1505.8 1926.8 Q1504.3 1928.1 1503.7 1929.9 M2040.9 3067.8 Q2039.9 3069.3 2039.8 3071.1 M3251.8 1754.3 Q3252.6 1758.0 3255.0 1761.0 M2530.6 2543.3 Q2533.1 2544.7 2535.8 2545.7 M1162.2 1561.5 Q1164.2 1562.8 1165.8 1564.4 M3707.6 1353.8 Q3705.9 1357.4 3706.8 1361.2 M2271.4 2698.5 Q2269.3 2699.2 2267.1 2699.7 M2329.4 2882.9 Q2326.7 2886.0 2323.0 2887.7 M3910.9 963.1 Q3907.2 962.7 3903.8 963.8 M1086.9 1529.9 Q1084.4 1532.8 1083.8 1536.6 M3813.2 905.4 Q3811.2 905.9 3809.9 907.4 M1868.1 2087.5 Q1868.1 2091.5 1869.0 2095.3 M3400.5 1663.3 Q3402.6 1667.0 3403.5 1671.2 M2186.2 2505.4 Q2184.9 2507.2 2182.8 2508.0 M3875.4 1007.4 Q3873.1 1008.1 3870.7 1008.1 M1279.9 1667.9 Q1281.2 1669.9 1281.2 1672.3 M2057.0 2389.4 Q2055.3 2392.1 2052.3 2393.2 M2390.7 2612.6 Q2394.8 2611.3 2398.9 2612.8 M2292.9 2865.2 Q2291.1 2866.7 2290.1 2868.8 M2883.5 2015.7 Q2884.9 2016.9 2886.2 2018.2 M1340.3 1734.8 Q1338.3 1736.8 1336.3 1738.8 M2186.2 3007.2 Q2182.3 3007.2 2178.3 3007.3 M2279.1 2917.9 Q2278.5 2921.7 2280.2 2925.2 M1982.6 2266.2 Q1983.0 2270.1 1981.5 2273.7 M3011.1 1972.6 Q3009.4 1974.2 3008.5 1976.4 M1426.8 1817.7 Q1426.0 1820.3 1427.0 1822.8 M2581.1 2437.1 Q2578.4 2436.6 2576.0 2437.9 M3081.2 1886.6 Q3080.2 1888.4 3080.4 1890.5 M2788.3 2152.8 Q2791.2 2154.1 2793.4 2156.4 M3752.1 1244.1 Q3753.0 1245.3 3753.5 1246.7 M2102.2 2440.3 Q2099.5 2441.3 2096.8 2441.0 M1689.0 2025.2 Q1687.9 2027.2 1686.9 2029.4 M2167.2 2862.7 Q2166.1 2866.5 2163.7 2869.5 M2992.1 2006.0 Q2989.0 2007.0 2986.4 2008.9 M1344.8 1785.0 Q1344.1 1785.6 1343.9 1786.5 M1576.3 1872.4 Q1572.1 1872.4 1567.9 1873.2 M1756.0 1984.6 Q1754.4 1987.8 1753.6 1991.4 M2171.6 2834.4 Q2170.4 2836.6 2170.5 2839.1 M2851.1 2164.7 Q2852.3 2166.6 2854.4 2167.4 M2837.1 2179.8 Q2840.2 2182.6 2843.8 2184.7 M2154.4 2804.5 Q2156.6 2805.2 2158.9 2805.7 M1583.6 1933.6 Q1585.4 1934.5 1586.7 1935.9 M1380.8 1741.6 Q1381.0 1745.0 1382.0 1748.2 M3526.5 1502.6 Q3525.7 1504.7 3524.4 1506.5 M2704.7 2337.5 Q2704.3 2339.8 2703.9 2342.1 M1903.2 2126.7 Q1902.2 2129.0 1900.3 2130.4 M2127.4 3087.8 Q2128.5 3088.4 2129.1 3089.5 M2232.2 2968.7 Q2234.4 2969.1 2236.5 2969.6 M3319.1 1750.5 Q3321.1 1751.3 3323.1 1750.7 M2238.7 2839.6 Q2238.7 2842.4 2239.3 2845.2 M2169.6 2709.7 Q2168.4 2710.1 2167.4 2710.9 M2335.2 2831.0 Q2331.7 2831.7 2328.6 2833.6 M2855.1 2062.6 Q2858.0 2064.9 2859.7 2068.1 M2213.9 2549.8 Q2211.9 2553.1 2211.9 2556.9 M2319.6 2715.7 Q2322.4 2717.0 2324.8 2719.0 M1220.3 1604.0 Q1221.8 1605.7 1223.1 1607.7 M3795.5 842.9 Q3794.8 844.6 3794.1 846.3 M3056.1 1885.0 Q3058.5 1887.9 3059.9 1891.2 M2756.9 2268.9 Q2754.6 2271.5 2751.3 2272.1 M3074.9 1859.6 Q3074.4 1862.3 3073.1 1864.7 M3544.4 1489.2 Q3547.1 1490.6 3550.1 1491.3 M2029.3 3023.2 Q2029.0 3024.5 2029.4 3025.9 M3663.8 1338.3 Q3662.7 1341.2 3662.3 1344.3 M1171.6 1536.1 Q1172.1 1538.2 1173.1 1540.1 M1427.8 1797.7 Q1427.7 1798.3 1427.4 1798.8 M3314.8 1714.0 Q3316.3 1717.9 3318.1 1721.6 M3420.3 1660.5 Q3417.3 1661.4 3414.7 1663.2 M2569.9 2404.7 Q2569.0 2406.8 2567.6 2408.6 M1334.5 1712.4 Q1333.7 1714.1 1333.6 1715.9 M2408.6 2733.7 Q2409.6 2736.4 2411.1 2738.8 M3560.0 825.4 Q3560.9 828.1 3562.7 830.3 M2160.6 2761.1 Q2160.2 2765.3 2162.4 2768.9 M1766.5 2086.4 Q1764.3 2086.0 1762.2 2086.6 M1682.9 2056.4 Q1685.5 2058.7 1688.7 2060.3 M2164.3 2970.6 Q2163.7 2972.6 2162.8 2974.5 M1633.7 2002.6 Q1632.8 2004.6 1632.3 2006.7 M1991.6 2229.1 Q1992.2 2229.1 1992.7 2229.5 M2127.1 2616.8 Q2129.7 2619.2 2132.5 2621.5 M1995.7 2346.0 Q1996.3 2347.1 1997.4 2347.7 M1780.1 2046.4 Q1780.8 2046.6 1781.4 2047.0 M2931.3 2004.9 Q2934.7 2005.6 2937.3 2007.8 M1104.4 1521.7 Q1104.6 1522.3 1104.9 1522.8 M3657.7 857.6 Q3656.0 858.8 3654.6 860.3 M3810.1 795.3 Q3809.6 795.5 3809.2 795.8 M3788.5 891.8 Q3792.0 892.6 3795.6 893.0 M1976.0 2201.4 Q1972.7 2203.8 1969.7 2206.6 M3690.8 1373.6 Q3690.2 1376.4 3689.7 1379.3 M2363.8 2641.3 Q2365.8 2641.0 2367.8 2641.7 M3904.0 1038.5 Q3904.6 1040.6 3905.2 1042.8 M1941.3 2192.4 Q1939.3 2193.0 1937.8 2194.4 M1350.9 1722.8 Q1350.3 1725.5 1350.2 1728.2 M2092.8 3064.7 Q2094.2 3066.8 2096.4 3067.9 M2649.5 2428.2 Q2650.7 2428.7 2651.7 2429.4 M2569.1 2457.8 Q2569.7 2458.7 2570.1 2459.8 M2631.1 2342.3 Q2628.9 2342.5 2627.1 2343.9 M1219.2 1584.6 Q1221.4 1585.1 1222.9 1586.8 M3041.8 1976.7 Q3044.3 1978.1 3047.1 1979.1 M2840.8 2119.0 Q2837.2 2119.6 2833.7 2120.9 M2907.6 2075.8 Q2905.5 2079.6 2902.4 2082.4 M1361.7 1739.9 Q1360.8 1740.6 1359.8 1741.3 M2284.1 2668.4 Q2283.2 2672.0 2284.3 2675.6 M1238.6 1646.3 Q1238.3 1649.1 1237.2 1651.8 M1832.7 2069.7 Q1835.2 2072.6 1836.2 2076.3 M2764.4 2163.5 Q2767.1 2164.3 2769.7 2165.3 M3872.0 1053.2 Q3868.5 1054.2 3866.1 1056.9 M2169.1 2914.9 Q2167.7 2917.9 2165.6 2920.4 M2093.4 2460.0 Q2095.2 2462.9 2098.4 2464.1 M1627.7 1882.4 Q1628.9 1886.4 1628.3 1890.6 M2597.2 2390.1 Q2598.4 2390.7 2599.6 2391.0 M2453.1 2582.2 Q2455.4 2583.1 2457.7 2582.6 M1734.9 2061.2 Q1736.2 2063.7 1736.4 2066.5 M3878.1 1086.9 Q3881.0 1087.5 3883.6 1088.8 M2812.5 2134.7 Q2814.9 2137.6 2818.3 2139.1 M1475.8 1789.7 Q1476.2 1793.0 1477.5 1796.1 M3496.8 1510.2 Q3496.9 1513.9 3496.0 1517.4 M3824.8 1175.9 Q3823.2 1176.9 3821.6 1177.8 M3837.8 1142.9 Q3834.0 1144.8 3829.7 1145.2 M2191.6 2700.2 Q2193.9 2701.9 2196.2 2703.6 M2091.2 2529.2 Q2088.0 2529.9 2084.8 2529.6 M2412.1 2570.1 Q2411.7 2572.5 2409.9 2574.2 M2868.2 2033.8 Q2870.3 2034.6 2871.7 2036.4 M3640.3 1407.6 Q3639.5 1410.5 3638.1 1413.2 M3752.1 829.9 Q3751.4 831.6 3751.8 833.4 M2188.2 2978.1 Q2190.6 2978.5 2193.0 2978.9 M1369.6 1792.2 Q1372.5 1792.7 1374.7 1794.6 M2310.8 2841.1 Q2307.8 2842.8 2304.5 2844.0 M3145.5 1893.8 Q3142.3 1896.7 3138.2 1897.6 M1291.8 1724.1 Q1293.7 1726.7 1295.4 1729.4 M2266.0 2651.6 Q2264.1 2653.5 2263.3 2656.1 M1305.0 1758.1 Q1308.0 1759.3 1310.4 1761.4 M1818.2 2102.6 Q1817.5 2102.9 1817.1 2103.5 M2246.1 2910.4 Q2248.2 2912.0 2250.2 2913.6 M2213.7 2621.9 Q2211.8 2624.6 2208.7 2625.6 M1947.9 2285.7 Q1948.6 2287.0 1949.6 2288.0 M3487.7 1579.9 Q3488.9 1582.7 3490.8 1585.1 M3593.3 1515.2 Q3594.0 1515.5 3594.7 1515.5 M3087.5 1845.1 Q3087.8 1845.8 3088.2 1846.3 M3867.2 836.8 Q3870.2 837.6 3872.5 839.7 M2483.9 2494.1 Q2488.0 2495.5 2492.2 2494.6 M1672.2 2040.3 Q1670.5 2043.6 1667.7 2046.1 M1196.9 1604.8 Q1195.4 1606.0 1194.9 1607.9 M2092.8 2418.4 Q2092.7 2422.1 2094.2 2425.5 M1846.6 2099.2 Q1848.6 2099.9 1850.8 2100.1 M1904.1 2206.5 Q1903.6 2210.3 1902.9 2214.0 M2988.3 1972.6 Q2990.6 1973.9 2992.1 1976.0 M3744.4 850.8 Q3745.2 854.4 3748.1 856.7 M3587.4 846.5 Q3587.9 850.5 3586.1 854.0 M1752.3 2036.0 Q1751.5 2038.1 1750.7 2040.2 M2495.8 2527.3 Q2494.7 2528.7 2494.3 2530.4 M3663.8 1420.9 Q3664.9 1421.5 3666.1 1421.2 M2195.1 2738.3 Q2197.3 2739.5 2199.8 2740.1 M3394.8 1605.6 Q3398.1 1607.3 3401.8 1607.6 M1838.4 2131.1 Q1837.9 2133.9 1838.9 2136.4 M3206.2 1760.3 Q3204.8 1762.0 3202.9 1763.1 M3267.9 1786.2 Q3264.3 1787.4 3262.3 1790.5 M2988.0 1990.6 Q2988.7 1991.1 2989.1 1991.8 M2463.9 2641.6 Q2462.7 2645.0 2463.1 2648.5 M1273.1 1697.4 Q1271.8 1701.1 1269.9 1704.5 M3152.3 1784.3 Q3149.6 1786.1 3148.6 1789.2 M1787.3 2109.5 Q1789.6 2112.3 1793.0 2113.6 M2773.1 2204.0 Q2772.8 2207.2 2773.3 2210.5 M1793.3 2138.0 Q1797.6 2138.2 1801.1 2140.7 M2777.5 2181.2 Q2780.2 2182.5 2781.8 2185.1 M2509.4 2559.5 Q2506.4 2561.5 2503.2 2563.0 M1350.0 1762.8 Q1350.4 1764.1 1350.9 1765.2 M2299.3 2686.3 Q2302.4 2689.1 2306.1 2690.9 M2163.2 2529.4 Q2162.1 2533.0 2160.6 2536.4 M2703.8 2249.3 Q2706.1 2249.6 2707.8 2251.1 M2199.4 2549.0 Q2196.8 2549.2 2194.7 2550.6 M1432.3 1887.8 Q1432.9 1887.7 1433.6 1887.8 M3686.4 853.8 Q3685.4 857.9 3684.4 861.9 M2070.0 3135.8 Q2069.1 3136.2 2068.1 3136.1 M2118.7 2643.7 Q2117.4 2645.1 2115.8 2646.1 M2282.8 2802.6 Q2282.3 2805.9 2283.7 2809.0 M2743.9 2185.8 Q2744.1 2187.7 2743.7 2189.6 M2189.8 2947.7 Q2189.3 2951.4 2189.2 2955.2 M3140.0 1841.5 Q3136.8 1843.4 3133.1 1844.0 M3867.9 888.2 Q3869.6 889.3 3871.7 889.1 M1186.6 1549.7 Q1184.1 1552.9 1183.2 1556.8 M2531.6 2466.1 Q2530.3 2468.9 2529.6 2472.0 M2129.1 2775.1 Q2133.0 2775.1 2136.8 2775.3 M1118.5 1529.9 Q1120.3 1533.0 1121.8 1536.3 M2952.6 1984.5 Q2951.1 1988.0 2948.6 1990.9 M2110.2 3049.4 Q2110.8 3052.7 2113.3 3055.0 M2090.8 3001.1 Q2089.9 3001.0 2089.0 3001.2 M2061.7 2365.5 Q2062.9 2368.8 2065.7 2371.1 M1735.2 2006.8 Q1733.3 2007.4 1731.5 2008.3 M1693.5 1935.1 Q1691.3 1937.5 1691.1 1940.8 M3554.2 856.3 Q3555.2 858.5 3556.3 860.7 M2306.6 2659.7 Q2304.2 2660.7 2301.7 2661.1 M2112.9 2374.5 Q2112.0 2378.4 2109.9 2381.7 M2248.7 2809.1 Q2247.7 2809.7 2246.7 2810.2 M2221.2 2945.7 Q2221.3 2948.9 2221.9 2952.0 M2979.7 2037.8 Q2979.6 2040.6 2980.7 2043.1 M1197.8 1574.6 Q1198.8 1575.5 1199.1 1576.9 M2042.6 3102.1 Q2042.5 3104.1 2043.4 3105.9 M2928.0 1989.9 Q2924.7 1990.7 2921.7 1992.1 M2115.2 2417.1 Q2117.8 2419.4 2119.3 2422.4 M3881.8 1020.9 Q3883.3 1024.4 3884.4 1028.0 M2672.7 2331.7 Q2670.0 2333.1 2667.1 2332.4 M2724.6 2222.9 Q2724.8 2226.3 2726.5 2229.4 M3475.9 1519.6 Q3477.4 1523.5 3476.6 1527.6 M2007.1 2212.5 Q2006.7 2216.7 2005.4 2220.7 M2591.6 2505.5 Q2588.9 2507.2 2585.8 2506.9 M3131.0 1874.3 Q3134.1 1875.2 3137.3 1875.6 M3157.8 1884.0 Q3160.9 1884.0 3163.7 1885.3 M3080.3 1922.9 Q3076.7 1922.4 3073.5 1923.8 M3668.7 1374.2 Q3665.9 1376.7 3662.9 1379.0 M1769.9 1992.3 Q1768.7 1996.2 1768.1 2000.3 M1296.2 1692.1 Q1299.8 1693.2 1302.6 1695.7 M1872.8 2136.1 Q1873.0 2138.2 1873.7 2140.1 M3307.4 1729.5 Q3306.5 1730.6 3305.5 1731.5 M2135.2 2442.4 Q2134.5 2444.0 2134.5 2445.8 M1153.8 1571.0 Q1150.8 1573.8 1147.8 1576.7 M2522.2 2586.4 Q2523.3 2590.4 2524.9 2594.2 M1497.7 1911.3 Q1494.9 1913.8 1493.7 1917.5 M3462.3 1570.2 Q3461.8 1570.7 3461.7 1571.4 M2966.7 2045.2 Q2963.0 2047.2 2959.2 2049.1 M1535.2 1910.2 Q1537.4 1912.7 1538.9 1915.6 M3195.6 1846.9 Q3196.6 1848.5 3198.1 1849.6 M2807.4 2189.3 Q2804.7 2192.2 2801.4 2194.6 M3837.5 1111.8 Q3835.8 1112.9 3835.1 1114.8 M3865.4 987.8 Q3867.3 990.9 3867.8 994.4 M2129.0 2513.2 Q2131.5 2514.3 2133.3 2516.3 M2659.1 2340.4 Q2656.5 2342.6 2653.1 2343.0 M2239.6 2670.2 Q2237.5 2671.6 2235.1 2672.1 M1642.6 1953.7 Q1646.0 1956.1 1649.0 1958.9 M2382.7 2760.4 Q2386.3 2759.8 2389.5 2761.4 M2124.4 2934.4 Q2123.5 2938.3 2122.1 2942.1 M1274.9 1730.9 Q1271.0 1731.9 1267.3 1733.5 M3724.8 850.9 Q3727.6 851.8 3729.2 854.3 M1713.5 2014.5 Q1711.2 2017.0 1707.9 2017.9 M3652.7 1395.5 Q3652.9 1397.6 3653.9 1399.6 M2525.8 2482.5 Q2524.2 2484.3 2523.9 2486.5 M2086.8 2979.7 Q2082.8 2981.4 2080.7 2985.1 M1177.5 1619.0 Q1177.8 1620.1 1178.4 1621.1 M3217.6 1773.8 Q3214.6 1775.6 3212.5 1778.4 M1519.0 1851.3 Q1519.8 1851.2 1520.4 1851.6 M1516.0 1892.8 Q1517.8 1894.1 1519.9 1894.6 M2603.6 2422.4 Q2600.1 2423.6 2596.5 2423.4 M3665.9 1356.7 Q3667.9 1359.3 3670.8 1360.7 M3119.0 1906.6 Q3119.2 1907.9 3118.6 1909.0 M2878.3 2062.7 Q2881.5 2063.7 2884.8 2063.5 M2375.6 2662.1 Q2376.8 2666.4 2380.3 2669.2 M2013.8 3057.6 Q2011.7 3058.7 2009.3 3058.8 M2186.0 2899.0 Q2188.5 2901.8 2191.9 2903.4 M2110.3 2571.0 Q2111.0 2573.0 2111.9 2575.0 M3173.8 1855.0 Q3171.9 1858.2 3169.2 1860.8 M1613.4 1937.9 Q1614.3 1939.5 1615.3 1941.2 M3770.6 800.0 Q3771.3 803.6 3770.3 807.0 M1433.9 1762.5 Q1432.0 1766.4 1428.3 1768.9 M1710.3 2064.3 Q1710.7 2066.9 1710.0 2069.5 M2563.7 2420.4 Q2564.5 2422.0 2564.3 2423.9 M2910.3 2094.9 Q2911.8 2096.1 2913.0 2097.6 M2073.6 3011.5 Q2070.5 3013.3 2068.5 3016.3 M1740.2 2083.4 Q1740.0 2087.5 1741.1 2091.6 M3467.2 1602.6 Q3466.8 1603.2 3466.6 1603.9 M3342.2 1633.9 Q3341.6 1635.0 3341.9 1636.2 M2637.8 2319.7 Q2640.3 2320.4 2642.2 2322.2 M3593.6 1409.7 Q3591.0 1413.2 3591.1 1417.6 M1978.3 2293.3 Q1979.1 2297.1 1981.9 2299.9 M3725.9 882.6 Q3726.9 884.3 3728.5 885.4 M3587.9 1445.1 Q3588.8 1447.4 3590.9 1448.7 M2131.3 2658.4 Q2133.4 2659.2 2135.6 2659.9 M1492.8 1820.5 Q1490.1 1821.3 1487.4 1822.2 M1833.1 2158.9 Q1832.2 2160.6 1832.3 2162.6 M3681.4 1341.4 Q3683.5 1343.0 3685.4 1344.9 M1802.3 1948.5 Q1801.9 1952.4 1801.5 1956.2 M1705.9 1910.8 Q1707.9 1912.9 1710.7 1914.0 M1913.2 2072.3 Q1909.4 2072.2 1906.4 2074.4 M1863.2 1964.1 Q1859.7 1966.3 1856.3 1968.6 M1823.7 1881.5 Q1824.0 1882.6 1824.5 1883.6 M1904.7 1990.8 Q1906.0 1992.4 1907.3 1994.0 M1919.4 2018.0 Q1917.0 2018.0 1914.5 2018.0 M1878.7 1989.0 Q1878.2 1990.8 1878.1 1992.7 M1777.9 1906.4 Q1779.0 1907.2 1779.5 1908.6 M1926.3 2060.6 Q1930.3 2061.8 1933.1 2064.9 M1974.3 2028.9 Q1973.1 2031.1 1970.9 2032.2 M1745.8 1859.9 Q1748.1 1860.4 1750.3 1860.0 M1902.3 2014.3 Q1900.3 2015.1 1899.2 2016.8 M1920.7 1991.4 Q1923.0 1994.3 1926.5 1995.3 M1881.9 1966.0 Q1882.5 1966.0 1883.1 1966.2 M1813.1 1917.8 Q1816.2 1919.7 1818.3 1922.8 M1849.2 2002.1 Q1848.4 2003.8 1848.8 2005.7 M1933.4 2092.9 Q1932.7 2096.2 1931.1 2099.2 M1852.1 1929.9 Q1851.2 1931.0 1850.8 1932.3 M1725.5 1902.7 Q1727.0 1903.7 1727.9 1905.3 M1733.1 1927.0 Q1733.6 1930.7 1734.0 1934.4 M1763.7 1962.3 Q1767.4 1964.3 1771.6 1964.6 M1807.6 1897.4 Q1806.2 1901.1 1805.3 1905.0 M1975.0 2012.7 Q1975.3 2013.3 1975.7 2013.7 M1826.7 1966.3 Q1828.7 1969.9 1831.2 1973.1 M1752.7 1881.6 Q1751.9 1882.4 1750.7 1882.5 M1765.7 1845.1 Q1768.9 1846.0 1772.2 1845.5 M1898.3 1948.3 Q1899.4 1948.7 1900.4 1948.3 M1821.2 2001.8 Q1824.3 2003.2 1826.7 2005.5 M1876.9 2013.0 Q1878.2 2017.0 1877.5 2021.2 M1784.5 1925.3 Q1784.7 1925.8 1784.9 1926.3 M1907.7 1959.3 Q1908.7 1961.4 1909.4 1963.6 M1921.2 2042.5 Q1919.5 2046.3 1918.5 2050.3 M1843.0 1916.2 Q1841.0 1919.6 1837.5 1921.7 M1771.7 1865.0 Q1769.5 1867.5 1768.9 1870.7 M1986.1 1993.1 Q1987.0 1996.3 1989.5 1998.5 M1958.6 2063.8 Q1959.5 2066.9 1958.3 2069.8 M1831.3 1902.5 Q1832.9 1903.8 1833.3 1905.9 M1782.3 1879.7 Q1784.9 1881.9 1785.7 1885.2 M2072.9 1777.5 Q2074.6 1780.8 2074.3 1784.4 M1863.5 1788.9 Q1863.6 1791.2 1865.0 1793.1 M2029.0 1777.1 Q2032.4 1779.0 2036.3 1779.0 M1911.3 1784.7 Q1911.1 1785.4 1910.7 1786.0 M1998.4 1774.0 Q1999.1 1776.9 1998.3 1779.8 M1769.0 1795.5 Q1770.5 1799.3 1772.9 1802.7 M2248.8 1780.7 Q2246.9 1781.4 2245.7 1783.1 M2182.7 1763.0 Q2183.8 1765.5 2183.9 1768.2 M2226.9 1762.7 Q2225.8 1766.3 2224.4 1769.8 M2280.8 1769.8 Q2280.0 1771.3 2279.1 1772.8 M1814.0 1784.4 Q1811.8 1786.0 1809.2 1786.9 M2104.9 1764.5 Q2102.8 1766.7 2102.0 1769.7 M1936.3 1777.0 Q1934.7 1779.7 1932.7 1781.9 M2129.6 1765.3 Q2128.1 1768.7 2125.2 1771.0 M2049.9 1774.7 Q2051.6 1775.5 2053.3 1776.0 M1880.7 1789.1 Q1880.2 1790.0 1880.2 1791.0 M1955.6 1779.0 Q1953.4 1781.2 1951.7 1783.8 M2257.3 1766.9 Q2259.5 1769.1 2260.3 1772.2 M3091.2 903.5 Q3091.4 907.5 3093.1 911.0 M2988.1 886.1 Q2984.9 887.7 2982.6 890.4 M3127.8 873.2 Q3127.9 875.7 3129.3 877.7 M3007.9 862.7 Q3008.4 863.0 3009.0 862.8 M2951.0 884.9 Q2952.1 888.1 2952.3 891.4 M2800.9 853.3 Q2799.7 855.4 2797.6 856.5 M2789.7 872.1 Q2791.1 873.3 2791.7 875.1 M3082.2 915.1 Q3080.3 918.8 3080.4 923.1 M2835.2 875.2 Q2837.1 878.8 2837.7 882.9 M2851.2 861.7 Q2852.5 863.1 2853.6 864.8 M2870.7 892.2 Q2872.8 893.4 2875.2 893.7 M3058.2 864.6 Q3056.9 868.2 3054.3 870.9 M3064.3 919.3 Q3062.3 920.9 3059.9 921.5 M2907.6 854.5 Q2908.7 855.9 2910.0 857.2 M3005.7 896.0 Q3005.1 895.9 3004.5 896.0 M2859.2 889.2 Q2855.2 890.9 2853.2 894.7 M2924.3 866.5 Q2925.6 868.6 2927.7 869.9 M2819.0 847.1 Q2816.8 849.7 2813.8 851.3 M3166.7 889.3 Q3167.5 889.5 3168.1 890.2 M2989.2 865.1 Q2990.2 868.6 2992.9 871.2 M2768.5 871.3 Q2770.3 873.4 2772.9 874.5 M1751.3 1749.5 Q1754.1 1749.9 1756.9 1750.8 M2046.0 1562.6 Q2047.5 1565.4 2050.0 1567.4 M2048.8 1590.1 Q2047.0 1593.6 2047.2 1597.5 M2111.2 1513.6 Q2114.0 1516.1 2115.2 1519.7 M1951.4 1626.1 Q1948.0 1628.6 1943.8 1628.9 M1865.1 1688.4 Q1861.6 1688.8 1858.5 1690.6 M2003.1 1595.8 Q2003.8 1595.9 2004.4 1596.3 M2199.3 1460.5 Q2199.3 1464.6 2201.6 1468.0 M1887.2 1663.4 Q1887.8 1667.5 1888.9 1671.6 M2073.3 1580.9 Q2072.7 1584.5 2071.0 1587.6 M2026.2 1608.6 Q2028.0 1610.1 2029.0 1612.2 M1930.6 1637.7 Q1928.6 1638.8 1926.8 1640.1 M1722.8 1745.6 Q1725.5 1748.6 1729.4 1749.4 M2143.9 1500.7 Q2142.5 1504.1 2141.2 1507.4 M1735.0 1771.3 Q1731.9 1771.5 1729.1 1772.8 M2087.2 1527.1 Q2089.6 1528.6 2091.5 1530.7 M2260.4 1391.0 Q2259.0 1393.4 2258.3 1396.1 M1796.4 1715.5 Q1795.2 1718.5 1793.0 1721.0 M2034.3 1580.9 Q2035.3 1583.6 2037.0 1585.9 M2088.8 1568.9 Q2088.1 1569.0 2087.4 1569.0 M2246.9 1418.5 Q2245.2 1421.9 2244.3 1425.5 M1712.1 1783.4 Q1716.3 1783.2 1719.9 1785.5 M1822.0 1700.7 Q1821.2 1704.8 1822.4 1708.8 M2181.3 1487.0 Q2181.9 1487.5 2182.4 1487.9 M2013.0 1614.6 Q2011.1 1616.0 2008.9 1616.9 M2174.4 1470.6 Q2172.5 1474.2 2169.5 1477.0 M2209.3 1445.3 Q2209.8 1448.3 2211.7 1450.7 M2073.4 1543.8 Q2074.0 1545.0 2075.2 1545.6 M1768.0 1723.5 Q1764.7 1725.4 1763.0 1728.8 M2192.8 1436.1 Q2195.1 1438.4 2198.3 1439.2 M1911.0 1653.9 Q1914.0 1656.0 1916.5 1658.6 M2179.1 1458.8 Q2180.6 1460.5 2182.8 1461.2 M2409.2 1152.7 Q2411.4 1152.7 2413.2 1154.1 M2436.7 1169.2 Q2438.5 1172.3 2441.3 1174.4 M2422.6 1161.9 Q2424.8 1163.7 2427.5 1164.9 M2429.7 1251.0 Q2430.3 1252.9 2429.8 1254.9 M2413.8 1269.1 Q2413.9 1269.9 2413.8 1270.7 M2195.4 950.6 Q2195.0 951.0 2194.5 951.2 M2170.6 920.0 Q2169.3 921.5 2167.3 921.9"/>
</g>
</g>
<g fill="none" stroke="#1a1a1a" stroke-width="4.7" stroke-linecap="round">
<path d="M672.0 1127.0 C714.7 1114.7 756.6 1099.5 800.0 1090.0 C856.1 1077.8 913.0 1069.3 970.0 1062.0 C1016.5 1056.0 1063.2 1050.0 1110.0 1050.0 C1156.8 1050.0 1203.5 1056.8 1250.0 1062.0 C1283.5 1065.8 1316.9 1070.8 1350.0 1077.0 C1400.2 1086.4 1450.5 1096.4 1500.0 1109.0 C1542.2 1119.7 1583.7 1133.3 1625.0 1147.0 C1672.3 1162.7 1719.5 1179.1 1766.0 1197.0 C1788.8 1205.8 1810.9 1216.6 1833.0 1227.0 C1855.5 1237.6 1877.8 1248.7 1900.0 1260.0 C1928.5 1274.4 1956.7 1289.3 1985.0 1304.0"/>
<path d="M619.0 1754.0 C646.0 1725.0 670.5 1693.4 700.0 1667.0 C731.0 1639.2 764.4 1613.7 800.0 1592.0 C839.7 1567.8 881.8 1547.3 925.0 1530.0 C965.4 1513.8 1007.8 1502.6 1050.0 1492.0 C1091.2 1481.6 1133.2 1474.5 1175.0 1467.0 C1216.5 1459.5 1258.1 1452.4 1300.0 1447.0 C1341.5 1441.7 1383.3 1438.2 1425.0 1435.0 C1466.6 1431.8 1508.3 1429.2 1550.0 1428.0 C1576.7 1427.2 1603.3 1428.7 1630.0 1429.0"/>
</g>
</svg>
<div class="t" style="left:371px;top:1173px;font-size:71px">stodola</div>
<div class="t" style="left:451px;top:1822px;font-size:71px">mlyn</div>
<div class="t" style="left:2039px;top:3308px;font-size:71px;letter-spacing:0.28px">centrum Partizánskej Ľupče</div>
</body></html>
